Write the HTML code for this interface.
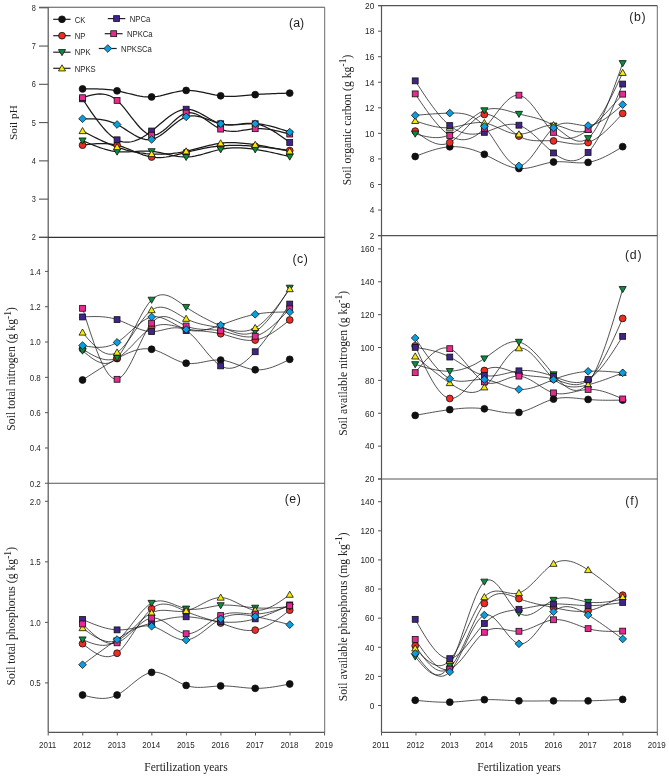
<!DOCTYPE html>
<html><head><meta charset="utf-8"><title>Figure</title>
<style>html,body{margin:0;padding:0;background:#fff;width:669px;height:776px;overflow:hidden;}svg{display:block;filter:blur(0.3px);font-family:"Liberation Sans",sans-serif;}</style></head>
<body>
<svg width="669" height="776" viewBox="0 0 669 776"><rect width="669" height="776" fill="#ffffff"/>
<line x1="48.2" y1="7.3" x2="48.2" y2="732.3" stroke="#555555" stroke-width="1.2"/>
<line x1="324.7" y1="7.3" x2="324.7" y2="732.3" stroke="#5a5a5a" stroke-width="0.9"/>
<line x1="39" y1="7.3" x2="324.7" y2="7.3" stroke="#555555" stroke-width="1.1"/>
<line x1="39" y1="237.4" x2="324.7" y2="237.4" stroke="#333" stroke-width="1.2"/>
<line x1="45" y1="483.3" x2="324.7" y2="483.3" stroke="#555555" stroke-width="1.1"/>
<line x1="48.2" y1="732.3" x2="324.7" y2="732.3" stroke="#555555" stroke-width="1.2"/>
<line x1="39" y1="237.40" x2="48.2" y2="237.40" stroke="#555555" stroke-width="1.1"/>
<text transform="translate(35.80 240.40) scale(1 1.15)" font-family="Liberation Sans, sans-serif" font-size="7.4" text-anchor="end" fill="#262626" >2</text>
<line x1="39" y1="199.13" x2="48.2" y2="199.13" stroke="#555555" stroke-width="1.1"/>
<text transform="translate(35.80 202.13) scale(1 1.15)" font-family="Liberation Sans, sans-serif" font-size="7.4" text-anchor="end" fill="#262626" >3</text>
<line x1="39" y1="160.86" x2="48.2" y2="160.86" stroke="#555555" stroke-width="1.1"/>
<text transform="translate(35.80 163.86) scale(1 1.15)" font-family="Liberation Sans, sans-serif" font-size="7.4" text-anchor="end" fill="#262626" >4</text>
<line x1="39" y1="122.59" x2="48.2" y2="122.59" stroke="#555555" stroke-width="1.1"/>
<text transform="translate(35.80 125.59) scale(1 1.15)" font-family="Liberation Sans, sans-serif" font-size="7.4" text-anchor="end" fill="#262626" >5</text>
<line x1="39" y1="84.32" x2="48.2" y2="84.32" stroke="#555555" stroke-width="1.1"/>
<text transform="translate(35.80 87.32) scale(1 1.15)" font-family="Liberation Sans, sans-serif" font-size="7.4" text-anchor="end" fill="#262626" >6</text>
<line x1="39" y1="46.05" x2="48.2" y2="46.05" stroke="#555555" stroke-width="1.1"/>
<text transform="translate(35.80 49.05) scale(1 1.15)" font-family="Liberation Sans, sans-serif" font-size="7.4" text-anchor="end" fill="#262626" >7</text>
<line x1="39" y1="7.78" x2="48.2" y2="7.78" stroke="#555555" stroke-width="1.1"/>
<text transform="translate(35.80 10.78) scale(1 1.15)" font-family="Liberation Sans, sans-serif" font-size="7.4" text-anchor="end" fill="#262626" >8</text>
<text transform="translate(40.80 486.50) scale(1 1.15)" font-family="Liberation Sans, sans-serif" font-size="8" text-anchor="end" fill="#262626" >0.2</text>
<line x1="45" y1="447.98" x2="48.2" y2="447.98" stroke="#555555" stroke-width="1"/>
<text transform="translate(40.80 451.18) scale(1 1.15)" font-family="Liberation Sans, sans-serif" font-size="8" text-anchor="end" fill="#262626" >0.4</text>
<line x1="45" y1="412.67" x2="48.2" y2="412.67" stroke="#555555" stroke-width="1"/>
<text transform="translate(40.80 415.87) scale(1 1.15)" font-family="Liberation Sans, sans-serif" font-size="8" text-anchor="end" fill="#262626" >0.6</text>
<line x1="45" y1="377.35" x2="48.2" y2="377.35" stroke="#555555" stroke-width="1"/>
<text transform="translate(40.80 380.55) scale(1 1.15)" font-family="Liberation Sans, sans-serif" font-size="8" text-anchor="end" fill="#262626" >0.8</text>
<line x1="45" y1="342.03" x2="48.2" y2="342.03" stroke="#555555" stroke-width="1"/>
<text transform="translate(40.80 345.23) scale(1 1.15)" font-family="Liberation Sans, sans-serif" font-size="8" text-anchor="end" fill="#262626" >1.0</text>
<line x1="45" y1="306.72" x2="48.2" y2="306.72" stroke="#555555" stroke-width="1"/>
<text transform="translate(40.80 309.92) scale(1 1.15)" font-family="Liberation Sans, sans-serif" font-size="8" text-anchor="end" fill="#262626" >1.2</text>
<line x1="45" y1="271.40" x2="48.2" y2="271.40" stroke="#555555" stroke-width="1"/>
<text transform="translate(40.80 274.60) scale(1 1.15)" font-family="Liberation Sans, sans-serif" font-size="8" text-anchor="end" fill="#262626" >1.4</text>
<line x1="45" y1="682.90" x2="48.2" y2="682.90" stroke="#555555" stroke-width="1"/>
<text transform="translate(40.80 686.10) scale(1 1.15)" font-family="Liberation Sans, sans-serif" font-size="8" text-anchor="end" fill="#262626" >0.5</text>
<line x1="45" y1="622.37" x2="48.2" y2="622.37" stroke="#555555" stroke-width="1"/>
<text transform="translate(40.80 625.57) scale(1 1.15)" font-family="Liberation Sans, sans-serif" font-size="8" text-anchor="end" fill="#262626" >1.0</text>
<line x1="45" y1="561.83" x2="48.2" y2="561.83" stroke="#555555" stroke-width="1"/>
<text transform="translate(40.80 565.03) scale(1 1.15)" font-family="Liberation Sans, sans-serif" font-size="8" text-anchor="end" fill="#262626" >1.5</text>
<line x1="45" y1="501.30" x2="48.2" y2="501.30" stroke="#555555" stroke-width="1"/>
<text transform="translate(40.80 504.50) scale(1 1.15)" font-family="Liberation Sans, sans-serif" font-size="8" text-anchor="end" fill="#262626" >2.0</text>
<line x1="48.20" y1="732.3" x2="48.20" y2="735.5" stroke="#555555" stroke-width="1"/>
<text transform="translate(47.60 747.60) scale(1 1.18)" font-family="Liberation Sans, sans-serif" font-size="8" text-anchor="middle" fill="#262626" >2011</text>
<line x1="82.75" y1="732.3" x2="82.75" y2="735.5" stroke="#555555" stroke-width="1"/>
<text transform="translate(82.15 747.60) scale(1 1.18)" font-family="Liberation Sans, sans-serif" font-size="8" text-anchor="middle" fill="#262626" >2012</text>
<line x1="117.30" y1="732.3" x2="117.30" y2="735.5" stroke="#555555" stroke-width="1"/>
<text transform="translate(116.70 747.60) scale(1 1.18)" font-family="Liberation Sans, sans-serif" font-size="8" text-anchor="middle" fill="#262626" >2013</text>
<line x1="151.85" y1="732.3" x2="151.85" y2="735.5" stroke="#555555" stroke-width="1"/>
<text transform="translate(151.25 747.60) scale(1 1.18)" font-family="Liberation Sans, sans-serif" font-size="8" text-anchor="middle" fill="#262626" >2014</text>
<line x1="186.40" y1="732.3" x2="186.40" y2="735.5" stroke="#555555" stroke-width="1"/>
<text transform="translate(185.80 747.60) scale(1 1.18)" font-family="Liberation Sans, sans-serif" font-size="8" text-anchor="middle" fill="#262626" >2015</text>
<line x1="220.95" y1="732.3" x2="220.95" y2="735.5" stroke="#555555" stroke-width="1"/>
<text transform="translate(220.35 747.60) scale(1 1.18)" font-family="Liberation Sans, sans-serif" font-size="8" text-anchor="middle" fill="#262626" >2016</text>
<line x1="255.50" y1="732.3" x2="255.50" y2="735.5" stroke="#555555" stroke-width="1"/>
<text transform="translate(254.90 747.60) scale(1 1.18)" font-family="Liberation Sans, sans-serif" font-size="8" text-anchor="middle" fill="#262626" >2017</text>
<line x1="290.05" y1="732.3" x2="290.05" y2="735.5" stroke="#555555" stroke-width="1"/>
<text transform="translate(289.45 747.60) scale(1 1.18)" font-family="Liberation Sans, sans-serif" font-size="8" text-anchor="middle" fill="#262626" >2018</text>
<line x1="324.60" y1="732.3" x2="324.60" y2="735.5" stroke="#555555" stroke-width="1"/>
<text transform="translate(324.00 747.60) scale(1 1.18)" font-family="Liberation Sans, sans-serif" font-size="8" text-anchor="middle" fill="#262626" >2019</text>
<line x1="381.5" y1="5.6" x2="381.5" y2="732.3" stroke="#555555" stroke-width="1.2"/>
<line x1="657.3" y1="5.6" x2="657.3" y2="732.3" stroke="#5a5a5a" stroke-width="0.9"/>
<line x1="378" y1="5.6" x2="657.3" y2="5.6" stroke="#555555" stroke-width="1.1"/>
<line x1="378" y1="235.6" x2="657.3" y2="235.6" stroke="#555555" stroke-width="1.1"/>
<line x1="378" y1="479.0" x2="657.3" y2="479.0" stroke="#555555" stroke-width="1.1"/>
<line x1="381.5" y1="732.3" x2="657.3" y2="732.3" stroke="#555555" stroke-width="1.2"/>
<line x1="378" y1="235.60" x2="381.5" y2="235.60" stroke="#555555" stroke-width="1"/>
<text transform="translate(374.30 238.90) scale(1 1.15)" font-family="Liberation Sans, sans-serif" font-size="8.3" text-anchor="end" fill="#262626" >2</text>
<line x1="378" y1="210.04" x2="381.5" y2="210.04" stroke="#555555" stroke-width="1"/>
<text transform="translate(374.30 213.34) scale(1 1.15)" font-family="Liberation Sans, sans-serif" font-size="8.3" text-anchor="end" fill="#262626" >4</text>
<line x1="378" y1="184.49" x2="381.5" y2="184.49" stroke="#555555" stroke-width="1"/>
<text transform="translate(374.30 187.79) scale(1 1.15)" font-family="Liberation Sans, sans-serif" font-size="8.3" text-anchor="end" fill="#262626" >6</text>
<line x1="378" y1="158.93" x2="381.5" y2="158.93" stroke="#555555" stroke-width="1"/>
<text transform="translate(374.30 162.23) scale(1 1.15)" font-family="Liberation Sans, sans-serif" font-size="8.3" text-anchor="end" fill="#262626" >8</text>
<line x1="378" y1="133.38" x2="381.5" y2="133.38" stroke="#555555" stroke-width="1"/>
<text transform="translate(374.30 136.68) scale(1 1.15)" font-family="Liberation Sans, sans-serif" font-size="8.3" text-anchor="end" fill="#262626" >10</text>
<line x1="378" y1="107.82" x2="381.5" y2="107.82" stroke="#555555" stroke-width="1"/>
<text transform="translate(374.30 111.12) scale(1 1.15)" font-family="Liberation Sans, sans-serif" font-size="8.3" text-anchor="end" fill="#262626" >12</text>
<line x1="378" y1="82.27" x2="381.5" y2="82.27" stroke="#555555" stroke-width="1"/>
<text transform="translate(374.30 85.57) scale(1 1.15)" font-family="Liberation Sans, sans-serif" font-size="8.3" text-anchor="end" fill="#262626" >14</text>
<line x1="378" y1="56.71" x2="381.5" y2="56.71" stroke="#555555" stroke-width="1"/>
<text transform="translate(374.30 60.01) scale(1 1.15)" font-family="Liberation Sans, sans-serif" font-size="8.3" text-anchor="end" fill="#262626" >16</text>
<line x1="378" y1="31.16" x2="381.5" y2="31.16" stroke="#555555" stroke-width="1"/>
<text transform="translate(374.30 34.46) scale(1 1.15)" font-family="Liberation Sans, sans-serif" font-size="8.3" text-anchor="end" fill="#262626" >18</text>
<line x1="378" y1="5.60" x2="381.5" y2="5.60" stroke="#555555" stroke-width="1"/>
<text transform="translate(374.30 8.90) scale(1 1.15)" font-family="Liberation Sans, sans-serif" font-size="8.3" text-anchor="end" fill="#262626" >20</text>
<line x1="378" y1="479.00" x2="381.5" y2="479.00" stroke="#555555" stroke-width="1"/>
<text transform="translate(374.30 482.30) scale(1 1.15)" font-family="Liberation Sans, sans-serif" font-size="8.3" text-anchor="end" fill="#262626" >20</text>
<line x1="378" y1="446.13" x2="381.5" y2="446.13" stroke="#555555" stroke-width="1"/>
<text transform="translate(374.30 449.43) scale(1 1.15)" font-family="Liberation Sans, sans-serif" font-size="8.3" text-anchor="end" fill="#262626" >40</text>
<line x1="378" y1="413.26" x2="381.5" y2="413.26" stroke="#555555" stroke-width="1"/>
<text transform="translate(374.30 416.56) scale(1 1.15)" font-family="Liberation Sans, sans-serif" font-size="8.3" text-anchor="end" fill="#262626" >60</text>
<line x1="378" y1="380.39" x2="381.5" y2="380.39" stroke="#555555" stroke-width="1"/>
<text transform="translate(374.30 383.69) scale(1 1.15)" font-family="Liberation Sans, sans-serif" font-size="8.3" text-anchor="end" fill="#262626" >80</text>
<line x1="378" y1="347.51" x2="381.5" y2="347.51" stroke="#555555" stroke-width="1"/>
<text transform="translate(374.30 350.81) scale(1 1.15)" font-family="Liberation Sans, sans-serif" font-size="8.3" text-anchor="end" fill="#262626" >100</text>
<line x1="378" y1="314.64" x2="381.5" y2="314.64" stroke="#555555" stroke-width="1"/>
<text transform="translate(374.30 317.94) scale(1 1.15)" font-family="Liberation Sans, sans-serif" font-size="8.3" text-anchor="end" fill="#262626" >120</text>
<line x1="378" y1="281.77" x2="381.5" y2="281.77" stroke="#555555" stroke-width="1"/>
<text transform="translate(374.30 285.07) scale(1 1.15)" font-family="Liberation Sans, sans-serif" font-size="8.3" text-anchor="end" fill="#262626" >140</text>
<line x1="378" y1="248.90" x2="381.5" y2="248.90" stroke="#555555" stroke-width="1"/>
<text transform="translate(374.30 252.20) scale(1 1.15)" font-family="Liberation Sans, sans-serif" font-size="8.3" text-anchor="end" fill="#262626" >160</text>
<line x1="378" y1="705.50" x2="381.5" y2="705.50" stroke="#555555" stroke-width="1"/>
<text transform="translate(374.30 708.80) scale(1 1.15)" font-family="Liberation Sans, sans-serif" font-size="8.3" text-anchor="end" fill="#262626" >0</text>
<line x1="378" y1="676.39" x2="381.5" y2="676.39" stroke="#555555" stroke-width="1"/>
<text transform="translate(374.30 679.69) scale(1 1.15)" font-family="Liberation Sans, sans-serif" font-size="8.3" text-anchor="end" fill="#262626" >20</text>
<line x1="378" y1="647.27" x2="381.5" y2="647.27" stroke="#555555" stroke-width="1"/>
<text transform="translate(374.30 650.57) scale(1 1.15)" font-family="Liberation Sans, sans-serif" font-size="8.3" text-anchor="end" fill="#262626" >40</text>
<line x1="378" y1="618.16" x2="381.5" y2="618.16" stroke="#555555" stroke-width="1"/>
<text transform="translate(374.30 621.46) scale(1 1.15)" font-family="Liberation Sans, sans-serif" font-size="8.3" text-anchor="end" fill="#262626" >60</text>
<line x1="378" y1="589.04" x2="381.5" y2="589.04" stroke="#555555" stroke-width="1"/>
<text transform="translate(374.30 592.34) scale(1 1.15)" font-family="Liberation Sans, sans-serif" font-size="8.3" text-anchor="end" fill="#262626" >80</text>
<line x1="378" y1="559.93" x2="381.5" y2="559.93" stroke="#555555" stroke-width="1"/>
<text transform="translate(374.30 563.23) scale(1 1.15)" font-family="Liberation Sans, sans-serif" font-size="8.3" text-anchor="end" fill="#262626" >100</text>
<line x1="378" y1="530.81" x2="381.5" y2="530.81" stroke="#555555" stroke-width="1"/>
<text transform="translate(374.30 534.11) scale(1 1.15)" font-family="Liberation Sans, sans-serif" font-size="8.3" text-anchor="end" fill="#262626" >120</text>
<line x1="378" y1="501.70" x2="381.5" y2="501.70" stroke="#555555" stroke-width="1"/>
<text transform="translate(374.30 505.00) scale(1 1.15)" font-family="Liberation Sans, sans-serif" font-size="8.3" text-anchor="end" fill="#262626" >140</text>
<line x1="381.50" y1="732.3" x2="381.50" y2="735.5" stroke="#555555" stroke-width="1"/>
<text transform="translate(380.90 747.60) scale(1 1.18)" font-family="Liberation Sans, sans-serif" font-size="8" text-anchor="middle" fill="#262626" >2011</text>
<line x1="415.98" y1="732.3" x2="415.98" y2="735.5" stroke="#555555" stroke-width="1"/>
<text transform="translate(415.38 747.60) scale(1 1.18)" font-family="Liberation Sans, sans-serif" font-size="8" text-anchor="middle" fill="#262626" >2012</text>
<line x1="450.46" y1="732.3" x2="450.46" y2="735.5" stroke="#555555" stroke-width="1"/>
<text transform="translate(449.86 747.60) scale(1 1.18)" font-family="Liberation Sans, sans-serif" font-size="8" text-anchor="middle" fill="#262626" >2013</text>
<line x1="484.94" y1="732.3" x2="484.94" y2="735.5" stroke="#555555" stroke-width="1"/>
<text transform="translate(484.34 747.60) scale(1 1.18)" font-family="Liberation Sans, sans-serif" font-size="8" text-anchor="middle" fill="#262626" >2014</text>
<line x1="519.42" y1="732.3" x2="519.42" y2="735.5" stroke="#555555" stroke-width="1"/>
<text transform="translate(518.82 747.60) scale(1 1.18)" font-family="Liberation Sans, sans-serif" font-size="8" text-anchor="middle" fill="#262626" >2015</text>
<line x1="553.90" y1="732.3" x2="553.90" y2="735.5" stroke="#555555" stroke-width="1"/>
<text transform="translate(553.30 747.60) scale(1 1.18)" font-family="Liberation Sans, sans-serif" font-size="8" text-anchor="middle" fill="#262626" >2016</text>
<line x1="588.38" y1="732.3" x2="588.38" y2="735.5" stroke="#555555" stroke-width="1"/>
<text transform="translate(587.78 747.60) scale(1 1.18)" font-family="Liberation Sans, sans-serif" font-size="8" text-anchor="middle" fill="#262626" >2017</text>
<line x1="622.86" y1="732.3" x2="622.86" y2="735.5" stroke="#555555" stroke-width="1"/>
<text transform="translate(622.26 747.60) scale(1 1.18)" font-family="Liberation Sans, sans-serif" font-size="8" text-anchor="middle" fill="#262626" >2018</text>
<line x1="657.34" y1="732.3" x2="657.34" y2="735.5" stroke="#555555" stroke-width="1"/>
<text transform="translate(656.74 747.60) scale(1 1.18)" font-family="Liberation Sans, sans-serif" font-size="8" text-anchor="middle" fill="#262626" >2019</text>
<g id="pa"><path d="M82.55 88.91 L85.43 88.88 L88.30 88.86 L91.18 88.85 L94.06 88.87 L96.94 88.92 L99.81 89.01 L102.69 89.15 L105.57 89.34 L108.45 89.59 L111.33 89.92 L114.20 90.33 L117.08 90.83 L119.96 91.41 L122.84 92.07 L125.71 92.77 L128.59 93.49 L131.47 94.21 L134.34 94.89 L137.22 95.52 L140.10 96.07 L142.98 96.51 L145.86 96.82 L148.73 96.98 L151.61 96.95 L154.49 96.72 L157.37 96.33 L160.24 95.79 L163.12 95.15 L166.00 94.44 L168.88 93.70 L171.75 92.95 L174.63 92.25 L177.51 91.61 L180.38 91.07 L183.26 90.67 L186.14 90.44 L189.02 90.41 L191.89 90.56 L194.77 90.86 L197.65 91.29 L200.53 91.81 L203.41 92.40 L206.28 93.03 L209.16 93.67 L212.04 94.29 L214.92 94.88 L217.79 95.39 L220.67 95.80 L223.55 96.09 L226.43 96.27 L229.30 96.35 L232.18 96.35 L235.06 96.26 L237.94 96.12 L240.81 95.92 L243.69 95.69 L246.57 95.43 L249.44 95.17 L252.32 94.90 L255.20 94.65 L258.08 94.43 L260.95 94.23 L263.83 94.05 L266.71 93.90 L269.59 93.76 L272.47 93.64 L275.34 93.53 L278.22 93.44 L281.10 93.35 L283.98 93.27 L286.85 93.19 L289.73 93.12" fill="none" stroke="#1a1a1a" stroke-width="1.25"/>
<path d="M82.55 145.17 L85.43 144.81 L88.30 144.47 L91.18 144.16 L94.06 143.90 L96.94 143.69 L99.81 143.56 L102.69 143.52 L105.57 143.58 L108.45 143.76 L111.33 144.08 L114.20 144.54 L117.08 145.17 L119.96 145.97 L122.84 146.91 L125.71 147.97 L128.59 149.11 L131.47 150.29 L134.34 151.48 L137.22 152.65 L140.10 153.77 L142.98 154.80 L145.86 155.71 L148.73 156.47 L151.61 157.03 L154.49 157.39 L157.37 157.54 L160.24 157.51 L163.12 157.32 L166.00 157.00 L168.88 156.55 L171.75 156.00 L174.63 155.36 L177.51 154.67 L180.38 153.94 L183.26 153.19 L186.14 152.44 L189.02 151.71 L191.89 151.00 L194.77 150.31 L197.65 149.66 L200.53 149.04 L203.41 148.46 L206.28 147.92 L209.16 147.42 L212.04 146.97 L214.92 146.57 L217.79 146.22 L220.67 145.93 L223.55 145.70 L226.43 145.53 L229.30 145.41 L232.18 145.35 L235.06 145.33 L237.94 145.36 L240.81 145.43 L243.69 145.54 L246.57 145.69 L249.44 145.87 L252.32 146.08 L255.20 146.32 L258.08 146.58 L260.95 146.87 L263.83 147.18 L266.71 147.50 L269.59 147.84 L272.47 148.20 L275.34 148.57 L278.22 148.95 L281.10 149.34 L283.98 149.73 L286.85 150.13 L289.73 150.53" fill="none" stroke="#1a1a1a" stroke-width="1.25"/>
<path d="M82.55 140.58 L85.43 141.82 L88.30 143.04 L91.18 144.24 L94.06 145.40 L96.94 146.51 L99.81 147.55 L102.69 148.51 L105.57 149.38 L108.45 150.15 L111.33 150.79 L114.20 151.31 L117.08 151.68 L119.96 151.89 L122.84 151.98 L125.71 151.95 L128.59 151.85 L131.47 151.69 L134.34 151.51 L137.22 151.33 L140.10 151.16 L142.98 151.05 L145.86 151.02 L148.73 151.09 L151.61 151.29 L154.49 151.64 L157.37 152.11 L160.24 152.68 L163.12 153.31 L166.00 153.97 L168.88 154.64 L171.75 155.28 L174.63 155.87 L177.51 156.37 L180.38 156.75 L183.26 156.98 L186.14 157.03 L189.02 156.89 L191.89 156.56 L194.77 156.08 L197.65 155.48 L200.53 154.77 L203.41 154.00 L206.28 153.18 L209.16 152.34 L212.04 151.52 L214.92 150.73 L217.79 150.01 L220.67 149.38 L223.55 148.87 L226.43 148.47 L229.30 148.17 L232.18 147.98 L235.06 147.89 L237.94 147.88 L240.81 147.96 L243.69 148.12 L246.57 148.34 L249.44 148.63 L252.32 148.98 L255.20 149.38 L258.08 149.82 L260.95 150.31 L263.83 150.84 L266.71 151.40 L269.59 151.99 L272.47 152.60 L275.34 153.24 L278.22 153.90 L281.10 154.58 L283.98 155.26 L286.85 155.95 L289.73 156.65" fill="none" stroke="#1a1a1a" stroke-width="1.25"/>
<path d="M82.55 131.01 L85.43 132.51 L88.30 134.00 L91.18 135.48 L94.06 136.94 L96.94 138.37 L99.81 139.77 L102.69 141.12 L105.57 142.44 L108.45 143.69 L111.33 144.89 L114.20 146.02 L117.08 147.08 L119.96 148.06 L122.84 148.96 L125.71 149.79 L128.59 150.54 L131.47 151.21 L134.34 151.81 L137.22 152.34 L140.10 152.80 L142.98 153.19 L145.86 153.52 L148.73 153.78 L151.61 153.97 L154.49 154.10 L157.37 154.17 L160.24 154.18 L163.12 154.12 L166.00 153.99 L168.88 153.81 L171.75 153.55 L174.63 153.23 L177.51 152.85 L180.38 152.40 L183.26 151.88 L186.14 151.29 L189.02 150.64 L191.89 149.94 L194.77 149.20 L197.65 148.43 L200.53 147.66 L203.41 146.89 L206.28 146.14 L209.16 145.43 L212.04 144.78 L214.92 144.18 L217.79 143.67 L220.67 143.26 L223.55 142.95 L226.43 142.74 L229.30 142.63 L232.18 142.61 L235.06 142.67 L237.94 142.81 L240.81 143.01 L243.69 143.28 L246.57 143.59 L249.44 143.95 L252.32 144.35 L255.20 144.79 L258.08 145.24 L260.95 145.72 L263.83 146.22 L266.71 146.74 L269.59 147.27 L272.47 147.82 L275.34 148.38 L278.22 148.95 L281.10 149.53 L283.98 150.11 L286.85 150.70 L289.73 151.29" fill="none" stroke="#1a1a1a" stroke-width="1.25"/>
<path d="M82.55 98.86 L85.43 103.23 L88.30 107.57 L91.18 111.82 L94.06 115.95 L96.94 119.92 L99.81 123.69 L102.69 127.21 L105.57 130.46 L108.45 133.38 L111.33 135.94 L114.20 138.10 L117.08 139.81 L119.96 141.05 L122.84 141.84 L125.71 142.20 L128.59 142.17 L131.47 141.76 L134.34 141.02 L137.22 139.96 L140.10 138.62 L142.98 137.03 L145.86 135.21 L148.73 133.19 L151.61 131.01 L154.49 128.69 L157.37 126.28 L160.24 123.84 L163.12 121.42 L166.00 119.08 L168.88 116.86 L171.75 114.82 L174.63 113.01 L177.51 111.49 L180.38 110.32 L183.26 109.53 L186.14 109.20 L189.02 109.34 L191.89 109.91 L194.77 110.84 L197.65 112.06 L200.53 113.50 L203.41 115.09 L206.28 116.75 L209.16 118.42 L212.04 120.02 L214.92 121.49 L217.79 122.75 L220.67 123.74 L223.55 124.40 L226.43 124.76 L229.30 124.88 L232.18 124.82 L235.06 124.61 L237.94 124.32 L240.81 124.00 L243.69 123.70 L246.57 123.47 L249.44 123.36 L252.32 123.44 L255.20 123.74 L258.08 124.31 L260.95 125.14 L263.83 126.20 L266.71 127.48 L269.59 128.95 L272.47 130.58 L275.34 132.35 L278.22 134.23 L281.10 136.22 L283.98 138.27 L286.85 140.37 L289.73 142.49" fill="none" stroke="#1a1a1a" stroke-width="1.25"/>
<path d="M82.55 97.71 L85.43 96.82 L88.30 95.97 L91.18 95.21 L94.06 94.60 L96.94 94.17 L99.81 93.98 L102.69 94.07 L105.57 94.49 L108.45 95.28 L111.33 96.50 L114.20 98.19 L117.08 100.39 L119.96 103.13 L122.84 106.32 L125.71 109.81 L128.59 113.51 L131.47 117.27 L134.34 120.98 L137.22 124.51 L140.10 127.75 L142.98 130.56 L145.86 132.82 L148.73 134.42 L151.61 135.22 L154.49 135.15 L157.37 134.30 L160.24 132.80 L163.12 130.80 L166.00 128.44 L168.88 125.84 L171.75 123.14 L174.63 120.49 L177.51 118.01 L180.38 115.85 L183.26 114.14 L186.14 113.02 L189.02 112.59 L191.89 112.79 L194.77 113.53 L197.65 114.72 L200.53 116.26 L203.41 118.06 L206.28 120.02 L209.16 122.06 L212.04 124.08 L214.92 125.99 L217.79 127.69 L220.67 129.10 L223.55 130.13 L226.43 130.82 L229.30 131.20 L232.18 131.33 L235.06 131.26 L237.94 131.01 L240.81 130.66 L243.69 130.23 L246.57 129.77 L249.44 129.34 L252.32 128.97 L255.20 128.71 L258.08 128.60 L260.95 128.64 L263.83 128.81 L266.71 129.10 L269.59 129.49 L272.47 129.97 L275.34 130.53 L278.22 131.16 L281.10 131.84 L283.98 132.56 L286.85 133.31 L289.73 134.07" fill="none" stroke="#1a1a1a" stroke-width="1.25"/>
<path d="M82.55 118.76 L85.43 118.76 L88.30 118.79 L91.18 118.85 L94.06 118.97 L96.94 119.17 L99.81 119.47 L102.69 119.89 L105.57 120.45 L108.45 121.18 L111.33 122.08 L114.20 123.18 L117.08 124.50 L119.96 126.05 L122.84 127.77 L125.71 129.60 L128.59 131.46 L131.47 133.28 L134.34 135.01 L137.22 136.57 L140.10 137.89 L142.98 138.90 L145.86 139.54 L148.73 139.74 L151.61 139.43 L154.49 138.57 L157.37 137.21 L160.24 135.47 L163.12 133.41 L166.00 131.14 L168.88 128.75 L171.75 126.32 L174.63 123.95 L177.51 121.73 L180.38 119.74 L183.26 118.09 L186.14 116.85 L189.02 116.10 L191.89 115.80 L194.77 115.88 L197.65 116.29 L200.53 116.95 L203.41 117.82 L206.28 118.83 L209.16 119.91 L212.04 121.00 L214.92 122.05 L217.79 122.98 L220.67 123.74 L223.55 124.28 L226.43 124.61 L229.30 124.77 L232.18 124.79 L235.06 124.71 L237.94 124.54 L240.81 124.33 L243.69 124.11 L246.57 123.91 L249.44 123.76 L252.32 123.69 L255.20 123.74 L258.08 123.92 L260.95 124.24 L263.83 124.69 L266.71 125.24 L269.59 125.89 L272.47 126.63 L275.34 127.44 L278.22 128.31 L281.10 129.23 L283.98 130.18 L286.85 131.16 L289.73 132.16" fill="none" stroke="#1a1a1a" stroke-width="1.25"/>
<circle cx="82.55" cy="88.91" r="3.40" fill="#101010" stroke="#111" stroke-width="0.8"/>
<circle cx="117.08" cy="90.83" r="3.40" fill="#101010" stroke="#111" stroke-width="0.8"/>
<circle cx="151.61" cy="96.95" r="3.40" fill="#101010" stroke="#111" stroke-width="0.8"/>
<circle cx="186.14" cy="90.44" r="3.40" fill="#101010" stroke="#111" stroke-width="0.8"/>
<circle cx="220.67" cy="95.80" r="3.40" fill="#101010" stroke="#111" stroke-width="0.8"/>
<circle cx="255.20" cy="94.65" r="3.40" fill="#101010" stroke="#111" stroke-width="0.8"/>
<circle cx="289.73" cy="93.12" r="3.40" fill="#101010" stroke="#111" stroke-width="0.8"/>
<circle cx="82.55" cy="145.17" r="3.40" fill="#ee2c24" stroke="#111" stroke-width="0.8"/>
<circle cx="117.08" cy="145.17" r="3.40" fill="#ee2c24" stroke="#111" stroke-width="0.8"/>
<circle cx="151.61" cy="157.03" r="3.40" fill="#ee2c24" stroke="#111" stroke-width="0.8"/>
<circle cx="186.14" cy="152.44" r="3.40" fill="#ee2c24" stroke="#111" stroke-width="0.8"/>
<circle cx="220.67" cy="145.93" r="3.40" fill="#ee2c24" stroke="#111" stroke-width="0.8"/>
<circle cx="255.20" cy="146.32" r="3.40" fill="#ee2c24" stroke="#111" stroke-width="0.8"/>
<circle cx="289.73" cy="150.53" r="3.40" fill="#ee2c24" stroke="#111" stroke-width="0.8"/>
<path d="M82.55 144.08L86.10 137.95L79.00 137.95Z" fill="#03923c" stroke="#111" stroke-width="0.8" stroke-linejoin="miter"/>
<path d="M117.08 155.18L120.63 149.05L113.53 149.05Z" fill="#03923c" stroke="#111" stroke-width="0.8" stroke-linejoin="miter"/>
<path d="M151.61 154.79L155.16 148.67L148.06 148.67Z" fill="#03923c" stroke="#111" stroke-width="0.8" stroke-linejoin="miter"/>
<path d="M186.14 160.53L189.69 154.41L182.59 154.41Z" fill="#03923c" stroke="#111" stroke-width="0.8" stroke-linejoin="miter"/>
<path d="M220.67 152.88L224.22 146.75L217.12 146.75Z" fill="#03923c" stroke="#111" stroke-width="0.8" stroke-linejoin="miter"/>
<path d="M255.20 152.88L258.75 146.75L251.65 146.75Z" fill="#03923c" stroke="#111" stroke-width="0.8" stroke-linejoin="miter"/>
<path d="M289.73 160.15L293.28 154.03L286.18 154.03Z" fill="#03923c" stroke="#111" stroke-width="0.8" stroke-linejoin="miter"/>
<path d="M82.55 127.51L86.10 133.63L79.00 133.63Z" fill="#f6ec00" stroke="#111" stroke-width="0.8" stroke-linejoin="miter"/>
<path d="M117.08 143.58L120.63 149.71L113.53 149.71Z" fill="#f6ec00" stroke="#111" stroke-width="0.8" stroke-linejoin="miter"/>
<path d="M151.61 150.47L155.16 156.60L148.06 156.60Z" fill="#f6ec00" stroke="#111" stroke-width="0.8" stroke-linejoin="miter"/>
<path d="M186.14 147.79L189.69 153.92L182.59 153.92Z" fill="#f6ec00" stroke="#111" stroke-width="0.8" stroke-linejoin="miter"/>
<path d="M220.67 139.76L224.22 145.88L217.12 145.88Z" fill="#f6ec00" stroke="#111" stroke-width="0.8" stroke-linejoin="miter"/>
<path d="M255.20 141.29L258.75 147.41L251.65 147.41Z" fill="#f6ec00" stroke="#111" stroke-width="0.8" stroke-linejoin="miter"/>
<path d="M289.73 147.79L293.28 153.92L286.18 153.92Z" fill="#f6ec00" stroke="#111" stroke-width="0.8" stroke-linejoin="miter"/>
<rect x="79.60" y="95.91" width="5.90" height="5.90" fill="#40248a" stroke="#111" stroke-width="0.8"/>
<rect x="114.13" y="136.86" width="5.90" height="5.90" fill="#40248a" stroke="#111" stroke-width="0.8"/>
<rect x="148.66" y="128.06" width="5.90" height="5.90" fill="#40248a" stroke="#111" stroke-width="0.8"/>
<rect x="183.19" y="106.25" width="5.90" height="5.90" fill="#40248a" stroke="#111" stroke-width="0.8"/>
<rect x="217.72" y="120.79" width="5.90" height="5.90" fill="#40248a" stroke="#111" stroke-width="0.8"/>
<rect x="252.25" y="120.79" width="5.90" height="5.90" fill="#40248a" stroke="#111" stroke-width="0.8"/>
<rect x="286.78" y="139.54" width="5.90" height="5.90" fill="#40248a" stroke="#111" stroke-width="0.8"/>
<rect x="79.60" y="94.76" width="5.90" height="5.90" fill="#ea2990" stroke="#111" stroke-width="0.8"/>
<rect x="114.13" y="97.44" width="5.90" height="5.90" fill="#ea2990" stroke="#111" stroke-width="0.8"/>
<rect x="148.66" y="132.27" width="5.90" height="5.90" fill="#ea2990" stroke="#111" stroke-width="0.8"/>
<rect x="183.19" y="110.07" width="5.90" height="5.90" fill="#ea2990" stroke="#111" stroke-width="0.8"/>
<rect x="217.72" y="126.15" width="5.90" height="5.90" fill="#ea2990" stroke="#111" stroke-width="0.8"/>
<rect x="252.25" y="125.76" width="5.90" height="5.90" fill="#ea2990" stroke="#111" stroke-width="0.8"/>
<rect x="286.78" y="131.12" width="5.90" height="5.90" fill="#ea2990" stroke="#111" stroke-width="0.8"/>
<path d="M82.55 114.91L86.40 118.76L82.55 122.61L78.70 118.76Z" fill="#089fe2" stroke="#111" stroke-width="0.8"/>
<path d="M117.08 120.65L120.93 124.50L117.08 128.35L113.23 124.50Z" fill="#089fe2" stroke="#111" stroke-width="0.8"/>
<path d="M151.61 135.58L155.46 139.43L151.61 143.28L147.76 139.43Z" fill="#089fe2" stroke="#111" stroke-width="0.8"/>
<path d="M186.14 113.00L189.99 116.85L186.14 120.70L182.29 116.85Z" fill="#089fe2" stroke="#111" stroke-width="0.8"/>
<path d="M220.67 119.89L224.52 123.74L220.67 127.59L216.82 123.74Z" fill="#089fe2" stroke="#111" stroke-width="0.8"/>
<path d="M255.20 119.89L259.05 123.74L255.20 127.59L251.35 123.74Z" fill="#089fe2" stroke="#111" stroke-width="0.8"/>
<path d="M289.73 128.31L293.58 132.16L289.73 136.01L285.88 132.16Z" fill="#089fe2" stroke="#111" stroke-width="0.8"/></g>
<g id="pb"><path d="M415.20 156.51 L418.08 155.39 L420.96 154.29 L423.84 153.21 L426.73 152.17 L429.61 151.19 L432.49 150.27 L435.37 149.42 L438.25 148.66 L441.13 148.01 L444.02 147.47 L446.90 147.06 L449.78 146.79 L452.66 146.68 L455.54 146.71 L458.42 146.89 L461.31 147.20 L464.19 147.66 L467.07 148.25 L469.95 148.96 L472.83 149.81 L475.72 150.77 L478.60 151.85 L481.48 153.04 L484.36 154.33 L487.24 155.73 L490.12 157.20 L493.00 158.70 L495.89 160.21 L498.77 161.69 L501.65 163.11 L504.53 164.44 L507.41 165.64 L510.29 166.68 L513.18 167.53 L516.06 168.15 L518.94 168.52 L521.82 168.60 L524.70 168.44 L527.58 168.06 L530.47 167.52 L533.35 166.85 L536.23 166.09 L539.11 165.28 L541.99 164.47 L544.88 163.70 L547.76 163.00 L550.64 162.42 L553.52 162.00 L556.40 161.76 L559.28 161.69 L562.16 161.75 L565.05 161.90 L567.93 162.12 L570.81 162.36 L573.69 162.59 L576.57 162.77 L579.45 162.88 L582.34 162.87 L585.22 162.72 L588.10 162.38 L590.98 161.84 L593.86 161.09 L596.74 160.17 L599.63 159.08 L602.51 157.84 L605.39 156.48 L608.27 155.01 L611.15 153.45 L614.03 151.82 L616.92 150.13 L619.80 148.41 L622.68 146.67" fill="none" stroke="#1a1a1a" stroke-width="0.75"/>
<path d="M415.20 131.08 L418.08 133.24 L420.96 135.35 L423.84 137.36 L426.73 139.22 L429.61 140.87 L432.49 142.28 L435.37 143.38 L438.25 144.12 L441.13 144.47 L444.02 144.36 L446.90 143.75 L449.78 142.58 L452.66 140.83 L455.54 138.59 L458.42 135.98 L461.31 133.11 L464.19 130.09 L467.07 127.03 L469.95 124.06 L472.83 121.29 L475.72 118.83 L478.60 116.80 L481.48 115.30 L484.36 114.47 L487.24 114.37 L490.12 114.94 L493.00 116.08 L495.89 117.71 L498.77 119.71 L501.65 121.99 L504.53 124.45 L507.41 127.00 L510.29 129.53 L513.18 131.95 L516.06 134.16 L518.94 136.06 L521.82 137.58 L524.70 138.74 L527.58 139.59 L530.47 140.17 L533.35 140.53 L536.23 140.72 L539.11 140.79 L541.99 140.78 L544.88 140.74 L547.76 140.72 L550.64 140.76 L553.52 140.92 L556.40 141.21 L559.28 141.63 L562.16 142.11 L565.05 142.62 L567.93 143.12 L570.81 143.56 L573.69 143.90 L576.57 144.10 L579.45 144.11 L582.34 143.89 L585.22 143.39 L588.10 142.58 L590.98 141.42 L593.86 139.92 L596.74 138.13 L599.63 136.07 L602.51 133.77 L605.39 131.25 L608.27 128.56 L611.15 125.72 L614.03 122.76 L616.92 119.70 L619.80 116.59 L622.68 113.44" fill="none" stroke="#1a1a1a" stroke-width="0.75"/>
<path d="M415.20 133.76 L418.08 134.56 L420.96 135.32 L423.84 136.02 L426.73 136.64 L429.61 137.13 L432.49 137.47 L435.37 137.63 L438.25 137.58 L441.13 137.29 L444.02 136.72 L446.90 135.86 L449.78 134.66 L452.66 133.11 L455.54 131.26 L458.42 129.18 L461.31 126.93 L464.19 124.57 L467.07 122.16 L469.95 119.78 L472.83 117.48 L475.72 115.32 L478.60 113.38 L481.48 111.71 L484.36 110.38 L487.24 109.43 L490.12 108.84 L493.00 108.58 L495.89 108.59 L498.77 108.85 L501.65 109.30 L504.53 109.92 L507.41 110.65 L510.29 111.46 L513.18 112.31 L516.06 113.15 L518.94 113.96 L521.82 114.69 L524.70 115.36 L527.58 116.01 L530.47 116.67 L533.35 117.36 L536.23 118.12 L539.11 118.97 L541.99 119.95 L544.88 121.09 L547.76 122.40 L550.64 123.94 L553.52 125.71 L556.40 127.74 L559.28 129.94 L562.16 132.20 L565.05 134.42 L567.93 136.50 L570.81 138.33 L573.69 139.81 L576.57 140.82 L579.45 141.28 L582.34 141.07 L585.22 140.09 L588.10 138.23 L590.98 135.43 L593.86 131.72 L596.74 127.20 L599.63 121.94 L602.51 116.03 L605.39 109.55 L608.27 102.58 L611.15 95.20 L614.03 87.49 L616.92 79.54 L619.80 71.43 L622.68 63.23" fill="none" stroke="#1a1a1a" stroke-width="0.75"/>
<path d="M415.20 120.86 L418.08 121.82 L420.96 122.76 L423.84 123.67 L426.73 124.53 L429.61 125.32 L432.49 126.03 L435.37 126.65 L438.25 127.14 L441.13 127.50 L444.02 127.72 L446.90 127.76 L449.78 127.63 L452.66 127.30 L455.54 126.82 L458.42 126.23 L461.31 125.56 L464.19 124.87 L467.07 124.20 L469.95 123.58 L472.83 123.07 L475.72 122.70 L478.60 122.52 L481.48 122.57 L484.36 122.90 L487.24 123.53 L490.12 124.41 L493.00 125.50 L495.89 126.72 L498.77 128.02 L501.65 129.33 L504.53 130.61 L507.41 131.79 L510.29 132.80 L513.18 133.59 L516.06 134.10 L518.94 134.27 L521.82 134.06 L524.70 133.52 L527.58 132.72 L530.47 131.72 L533.35 130.60 L536.23 129.42 L539.11 128.26 L541.99 127.18 L544.88 126.25 L547.76 125.54 L550.64 125.13 L553.52 125.07 L556.40 125.42 L559.28 126.09 L562.16 127.00 L565.05 128.05 L567.93 129.13 L570.81 130.15 L573.69 131.02 L576.57 131.62 L579.45 131.88 L582.34 131.68 L585.22 130.94 L588.10 129.54 L590.98 127.43 L593.86 124.64 L596.74 121.23 L599.63 117.25 L602.51 112.78 L605.39 107.88 L608.27 102.60 L611.15 97.02 L614.03 91.18 L616.92 85.16 L619.80 79.02 L622.68 72.81" fill="none" stroke="#1a1a1a" stroke-width="0.75"/>
<path d="M415.20 80.86 L418.08 85.29 L420.96 89.68 L423.84 94.02 L426.73 98.27 L429.61 102.40 L432.49 106.39 L435.37 110.20 L438.25 113.80 L441.13 117.17 L444.02 120.28 L446.90 123.09 L449.78 125.58 L452.66 127.73 L455.54 129.54 L458.42 131.03 L461.31 132.21 L464.19 133.09 L467.07 133.70 L469.95 134.05 L472.83 134.15 L475.72 134.01 L478.60 133.66 L481.48 133.10 L484.36 132.36 L487.24 131.44 L490.12 130.40 L493.00 129.30 L495.89 128.19 L498.77 127.11 L501.65 126.13 L504.53 125.29 L507.41 124.66 L510.29 124.28 L513.18 124.20 L516.06 124.49 L518.94 125.20 L521.82 126.36 L524.70 127.92 L527.58 129.83 L530.47 132.04 L533.35 134.47 L536.23 137.08 L539.11 139.79 L541.99 142.56 L544.88 145.31 L547.76 148.00 L550.64 150.56 L553.52 152.93 L556.40 155.05 L559.28 156.90 L562.16 158.43 L565.05 159.61 L567.93 160.41 L570.81 160.80 L573.69 160.73 L576.57 160.19 L579.45 159.13 L582.34 157.53 L585.22 155.34 L588.10 152.54 L590.98 149.11 L593.86 145.09 L596.74 140.52 L599.63 135.47 L602.51 129.99 L605.39 124.13 L608.27 117.94 L611.15 111.49 L614.03 104.82 L616.92 97.99 L619.80 91.05 L622.68 84.06" fill="none" stroke="#1a1a1a" stroke-width="0.75"/>
<path d="M415.20 93.89 L418.08 98.17 L420.96 102.42 L423.84 106.59 L426.73 110.67 L429.61 114.61 L432.49 118.38 L435.37 121.94 L438.25 125.27 L441.13 128.33 L444.02 131.09 L446.90 133.51 L449.78 135.55 L452.66 137.19 L455.54 138.43 L458.42 139.26 L461.31 139.68 L464.19 139.69 L467.07 139.30 L469.95 138.49 L472.83 137.27 L475.72 135.64 L478.60 133.59 L481.48 131.14 L484.36 128.27 L487.24 125.00 L490.12 121.44 L493.00 117.69 L495.89 113.88 L498.77 110.13 L501.65 106.55 L504.53 103.25 L507.41 100.36 L510.29 97.99 L513.18 96.25 L516.06 95.28 L518.94 95.17 L521.82 96.02 L524.70 97.72 L527.58 100.14 L530.47 103.15 L533.35 106.61 L536.23 110.40 L539.11 114.37 L541.99 118.40 L544.88 122.34 L547.76 126.07 L550.64 129.45 L553.52 132.36 L556.40 134.67 L559.28 136.40 L562.16 137.59 L565.05 138.27 L567.93 138.48 L570.81 138.25 L573.69 137.62 L576.57 136.62 L579.45 135.29 L582.34 133.66 L585.22 131.78 L588.10 129.67 L590.98 127.37 L593.86 124.90 L596.74 122.27 L599.63 119.50 L602.51 116.61 L605.39 113.60 L608.27 110.51 L611.15 107.33 L614.03 104.09 L616.92 100.80 L619.80 97.48 L622.68 94.15" fill="none" stroke="#1a1a1a" stroke-width="0.75"/>
<path d="M415.20 115.36 L418.08 115.12 L420.96 114.87 L423.84 114.64 L426.73 114.40 L429.61 114.18 L432.49 113.97 L435.37 113.77 L438.25 113.59 L441.13 113.43 L444.02 113.28 L446.90 113.16 L449.78 113.06 L452.66 113.00 L455.54 113.00 L458.42 113.12 L461.31 113.40 L464.19 113.88 L467.07 114.60 L469.95 115.60 L472.83 116.94 L475.72 118.66 L478.60 120.79 L481.48 123.38 L484.36 126.48 L487.24 130.09 L490.12 134.11 L493.00 138.40 L495.89 142.82 L498.77 147.23 L501.65 151.48 L504.53 155.44 L507.41 158.97 L510.29 161.93 L513.18 164.17 L516.06 165.56 L518.94 165.96 L521.82 165.28 L524.70 163.62 L527.58 161.14 L530.47 157.99 L533.35 154.35 L536.23 150.35 L539.11 146.17 L541.99 141.95 L544.88 137.86 L547.76 134.04 L550.64 130.67 L553.52 127.88 L556.40 125.81 L559.28 124.39 L562.16 123.54 L565.05 123.16 L567.93 123.14 L570.81 123.41 L573.69 123.86 L576.57 124.40 L579.45 124.94 L582.34 125.38 L585.22 125.63 L588.10 125.58 L590.98 125.18 L593.86 124.43 L596.74 123.35 L599.63 122.00 L602.51 120.38 L605.39 118.55 L608.27 116.52 L611.15 114.33 L614.03 112.02 L616.92 109.61 L619.80 107.13 L622.68 104.63" fill="none" stroke="#1a1a1a" stroke-width="0.75"/>
<circle cx="415.20" cy="156.51" r="3.40" fill="#101010" stroke="#111" stroke-width="0.8"/>
<circle cx="449.78" cy="146.79" r="3.40" fill="#101010" stroke="#111" stroke-width="0.8"/>
<circle cx="484.36" cy="154.33" r="3.40" fill="#101010" stroke="#111" stroke-width="0.8"/>
<circle cx="518.94" cy="168.52" r="3.40" fill="#101010" stroke="#111" stroke-width="0.8"/>
<circle cx="553.52" cy="162.00" r="3.40" fill="#101010" stroke="#111" stroke-width="0.8"/>
<circle cx="588.10" cy="162.38" r="3.40" fill="#101010" stroke="#111" stroke-width="0.8"/>
<circle cx="622.68" cy="146.67" r="3.40" fill="#101010" stroke="#111" stroke-width="0.8"/>
<circle cx="415.20" cy="131.08" r="3.40" fill="#ee2c24" stroke="#111" stroke-width="0.8"/>
<circle cx="449.78" cy="142.58" r="3.40" fill="#ee2c24" stroke="#111" stroke-width="0.8"/>
<circle cx="484.36" cy="114.47" r="3.40" fill="#ee2c24" stroke="#111" stroke-width="0.8"/>
<circle cx="518.94" cy="136.06" r="3.40" fill="#ee2c24" stroke="#111" stroke-width="0.8"/>
<circle cx="553.52" cy="140.92" r="3.40" fill="#ee2c24" stroke="#111" stroke-width="0.8"/>
<circle cx="588.10" cy="142.58" r="3.40" fill="#ee2c24" stroke="#111" stroke-width="0.8"/>
<circle cx="622.68" cy="113.44" r="3.40" fill="#ee2c24" stroke="#111" stroke-width="0.8"/>
<path d="M415.20 137.26L418.75 131.14L411.65 131.14Z" fill="#03923c" stroke="#111" stroke-width="0.8" stroke-linejoin="miter"/>
<path d="M449.78 138.16L453.33 132.03L446.23 132.03Z" fill="#03923c" stroke="#111" stroke-width="0.8" stroke-linejoin="miter"/>
<path d="M484.36 113.88L487.91 107.75L480.81 107.75Z" fill="#03923c" stroke="#111" stroke-width="0.8" stroke-linejoin="miter"/>
<path d="M518.94 117.46L522.49 111.33L515.39 111.33Z" fill="#03923c" stroke="#111" stroke-width="0.8" stroke-linejoin="miter"/>
<path d="M553.52 129.21L557.07 123.09L549.97 123.09Z" fill="#03923c" stroke="#111" stroke-width="0.8" stroke-linejoin="miter"/>
<path d="M588.10 141.73L591.65 135.61L584.55 135.61Z" fill="#03923c" stroke="#111" stroke-width="0.8" stroke-linejoin="miter"/>
<path d="M622.68 66.73L626.23 60.60L619.13 60.60Z" fill="#03923c" stroke="#111" stroke-width="0.8" stroke-linejoin="miter"/>
<path d="M415.20 117.36L418.75 123.48L411.65 123.48Z" fill="#f6ec00" stroke="#111" stroke-width="0.8" stroke-linejoin="miter"/>
<path d="M449.78 124.13L453.33 130.25L446.23 130.25Z" fill="#f6ec00" stroke="#111" stroke-width="0.8" stroke-linejoin="miter"/>
<path d="M484.36 119.40L487.91 125.53L480.81 125.53Z" fill="#f6ec00" stroke="#111" stroke-width="0.8" stroke-linejoin="miter"/>
<path d="M518.94 130.77L522.49 136.90L515.39 136.90Z" fill="#f6ec00" stroke="#111" stroke-width="0.8" stroke-linejoin="miter"/>
<path d="M553.52 121.57L557.07 127.70L549.97 127.70Z" fill="#f6ec00" stroke="#111" stroke-width="0.8" stroke-linejoin="miter"/>
<path d="M588.10 126.04L591.65 132.17L584.55 132.17Z" fill="#f6ec00" stroke="#111" stroke-width="0.8" stroke-linejoin="miter"/>
<path d="M622.68 69.31L626.23 75.44L619.13 75.44Z" fill="#f6ec00" stroke="#111" stroke-width="0.8" stroke-linejoin="miter"/>
<rect x="412.25" y="77.91" width="5.90" height="5.90" fill="#40248a" stroke="#111" stroke-width="0.8"/>
<rect x="446.83" y="122.63" width="5.90" height="5.90" fill="#40248a" stroke="#111" stroke-width="0.8"/>
<rect x="481.41" y="129.41" width="5.90" height="5.90" fill="#40248a" stroke="#111" stroke-width="0.8"/>
<rect x="515.99" y="122.25" width="5.90" height="5.90" fill="#40248a" stroke="#111" stroke-width="0.8"/>
<rect x="550.57" y="149.98" width="5.90" height="5.90" fill="#40248a" stroke="#111" stroke-width="0.8"/>
<rect x="585.15" y="149.59" width="5.90" height="5.90" fill="#40248a" stroke="#111" stroke-width="0.8"/>
<rect x="619.73" y="81.11" width="5.90" height="5.90" fill="#40248a" stroke="#111" stroke-width="0.8"/>
<rect x="412.25" y="90.94" width="5.90" height="5.90" fill="#ea2990" stroke="#111" stroke-width="0.8"/>
<rect x="446.83" y="132.60" width="5.90" height="5.90" fill="#ea2990" stroke="#111" stroke-width="0.8"/>
<rect x="481.41" y="125.32" width="5.90" height="5.90" fill="#ea2990" stroke="#111" stroke-width="0.8"/>
<rect x="515.99" y="92.22" width="5.90" height="5.90" fill="#ea2990" stroke="#111" stroke-width="0.8"/>
<rect x="550.57" y="129.41" width="5.90" height="5.90" fill="#ea2990" stroke="#111" stroke-width="0.8"/>
<rect x="585.15" y="126.72" width="5.90" height="5.90" fill="#ea2990" stroke="#111" stroke-width="0.8"/>
<rect x="619.73" y="91.20" width="5.90" height="5.90" fill="#ea2990" stroke="#111" stroke-width="0.8"/>
<path d="M415.20 111.51L419.05 115.36L415.20 119.21L411.35 115.36Z" fill="#089fe2" stroke="#111" stroke-width="0.8"/>
<path d="M449.78 109.21L453.63 113.06L449.78 116.91L445.93 113.06Z" fill="#089fe2" stroke="#111" stroke-width="0.8"/>
<path d="M484.36 122.63L488.21 126.48L484.36 130.33L480.51 126.48Z" fill="#089fe2" stroke="#111" stroke-width="0.8"/>
<path d="M518.94 162.11L522.79 165.96L518.94 169.81L515.09 165.96Z" fill="#089fe2" stroke="#111" stroke-width="0.8"/>
<path d="M553.52 124.03L557.37 127.88L553.52 131.73L549.67 127.88Z" fill="#089fe2" stroke="#111" stroke-width="0.8"/>
<path d="M588.10 121.73L591.95 125.58L588.10 129.43L584.25 125.58Z" fill="#089fe2" stroke="#111" stroke-width="0.8"/>
<path d="M622.68 100.78L626.53 104.63L622.68 108.48L618.83 104.63Z" fill="#089fe2" stroke="#111" stroke-width="0.8"/></g>
<g id="pc"><path d="M82.55 380.00 L85.43 378.13 L88.30 376.26 L91.18 374.39 L94.06 372.54 L96.94 370.71 L99.81 368.89 L102.69 367.10 L105.57 365.34 L108.45 363.61 L111.33 361.91 L114.20 360.25 L117.08 358.63 L119.96 357.07 L122.84 355.57 L125.71 354.16 L128.59 352.87 L131.47 351.71 L134.34 350.71 L137.22 349.89 L140.10 349.28 L142.98 348.88 L145.86 348.74 L148.73 348.86 L151.61 349.27 L154.49 349.99 L157.37 350.96 L160.24 352.14 L163.12 353.47 L166.00 354.91 L168.88 356.39 L171.75 357.86 L174.63 359.27 L177.51 360.56 L180.38 361.69 L183.26 362.59 L186.14 363.22 L189.02 363.54 L191.89 363.59 L194.77 363.40 L197.65 363.04 L200.53 362.56 L203.41 362.01 L206.28 361.43 L209.16 360.89 L212.04 360.43 L214.92 360.10 L217.79 359.95 L220.67 360.04 L223.55 360.41 L226.43 361.01 L229.30 361.80 L232.18 362.73 L235.06 363.77 L237.94 364.85 L240.81 365.94 L243.69 366.98 L246.57 367.93 L249.44 368.74 L252.32 369.37 L255.20 369.76 L258.08 369.88 L260.95 369.74 L263.83 369.37 L266.71 368.79 L269.59 368.01 L272.47 367.08 L275.34 366.00 L278.22 364.81 L281.10 363.53 L283.98 362.17 L286.85 360.77 L289.73 359.34" fill="none" stroke="#1a1a1a" stroke-width="0.75"/>
<path d="M82.55 349.10 L85.43 350.88 L88.30 352.62 L91.18 354.27 L94.06 355.79 L96.94 357.14 L99.81 358.26 L102.69 359.12 L105.57 359.67 L108.45 359.87 L111.33 359.68 L114.20 359.04 L117.08 357.93 L119.96 356.30 L122.84 354.23 L125.71 351.80 L128.59 349.10 L131.47 346.21 L134.34 343.21 L137.22 340.19 L140.10 337.24 L142.98 334.43 L145.86 331.85 L148.73 329.59 L151.61 327.73 L154.49 326.33 L157.37 325.37 L160.24 324.80 L163.12 324.56 L166.00 324.60 L168.88 324.89 L171.75 325.36 L174.63 325.97 L177.51 326.67 L180.38 327.40 L183.26 328.13 L186.14 328.79 L189.02 329.35 L191.89 329.83 L194.77 330.23 L197.65 330.58 L200.53 330.89 L203.41 331.19 L206.28 331.49 L209.16 331.82 L212.04 332.18 L214.92 332.61 L217.79 333.12 L220.67 333.73 L223.55 334.45 L226.43 335.26 L229.30 336.11 L232.18 336.97 L235.06 337.81 L237.94 338.59 L240.81 339.28 L243.69 339.84 L246.57 340.24 L249.44 340.44 L252.32 340.40 L255.20 340.09 L258.08 339.49 L260.95 338.60 L263.83 337.46 L266.71 336.10 L269.59 334.53 L272.47 332.78 L275.34 330.87 L278.22 328.84 L281.10 326.71 L283.98 324.50 L286.85 322.24 L289.73 319.96" fill="none" stroke="#1a1a1a" stroke-width="0.75"/>
<path d="M82.55 350.69 L85.43 353.08 L88.30 355.40 L91.18 357.57 L94.06 359.52 L96.94 361.15 L99.81 362.41 L102.69 363.22 L105.57 363.49 L108.45 363.15 L111.33 362.14 L114.20 360.36 L117.08 357.75 L119.96 354.27 L122.84 350.03 L125.71 345.18 L128.59 339.89 L131.47 334.30 L134.34 328.57 L137.22 322.85 L140.10 317.30 L142.98 312.07 L145.86 307.31 L148.73 303.18 L151.61 299.83 L154.49 297.37 L157.37 295.77 L160.24 294.92 L163.12 294.74 L166.00 295.15 L168.88 296.06 L171.75 297.38 L174.63 299.02 L177.51 300.90 L180.38 302.92 L183.26 305.01 L186.14 307.07 L189.02 309.03 L191.89 310.89 L194.77 312.66 L197.65 314.34 L200.53 315.96 L203.41 317.51 L206.28 319.01 L209.16 320.48 L212.04 321.91 L214.92 323.32 L217.79 324.73 L220.67 326.14 L223.55 327.55 L226.43 328.94 L229.30 330.25 L232.18 331.44 L235.06 332.46 L237.94 333.29 L240.81 333.86 L243.69 334.14 L246.57 334.08 L249.44 333.64 L252.32 332.77 L255.20 331.44 L258.08 329.61 L260.95 327.30 L263.83 324.57 L266.71 321.46 L269.59 318.00 L272.47 314.25 L275.34 310.23 L278.22 306.01 L281.10 301.61 L283.98 297.09 L286.85 292.48 L289.73 287.82" fill="none" stroke="#1a1a1a" stroke-width="0.75"/>
<path d="M82.55 332.50 L85.43 335.85 L88.30 339.12 L91.18 342.26 L94.06 345.18 L96.94 347.82 L99.81 350.11 L102.69 351.97 L105.57 353.34 L108.45 354.14 L111.33 354.31 L114.20 353.77 L117.08 352.45 L119.96 350.32 L122.84 347.48 L125.71 344.06 L128.59 340.21 L131.47 336.05 L134.34 331.73 L137.22 327.39 L140.10 323.16 L142.98 319.17 L145.86 315.57 L148.73 312.49 L151.61 310.07 L154.49 308.41 L157.37 307.46 L160.24 307.14 L163.12 307.37 L166.00 308.05 L168.88 309.11 L171.75 310.47 L174.63 312.04 L177.51 313.73 L180.38 315.46 L183.26 317.16 L186.14 318.72 L189.02 320.10 L191.89 321.29 L194.77 322.32 L197.65 323.20 L200.53 323.97 L203.41 324.64 L206.28 325.24 L209.16 325.78 L212.04 326.30 L214.92 326.81 L217.79 327.34 L220.67 327.91 L223.55 328.52 L226.43 329.16 L229.30 329.78 L232.18 330.35 L235.06 330.81 L237.94 331.13 L240.81 331.28 L243.69 331.20 L246.57 330.87 L249.44 330.23 L252.32 329.26 L255.20 327.91 L258.08 326.15 L260.95 324.00 L263.83 321.50 L266.71 318.69 L269.59 315.60 L272.47 312.26 L275.34 308.72 L278.22 304.99 L281.10 301.13 L283.98 297.17 L286.85 293.13 L289.73 289.06" fill="none" stroke="#1a1a1a" stroke-width="0.75"/>
<path d="M82.55 316.96 L85.43 316.82 L88.30 316.69 L91.18 316.60 L94.06 316.55 L96.94 316.56 L99.81 316.65 L102.69 316.83 L105.57 317.11 L108.45 317.52 L111.33 318.06 L114.20 318.75 L117.08 319.61 L119.96 320.64 L122.84 321.81 L125.71 323.07 L128.59 324.39 L131.47 325.71 L134.34 327.00 L137.22 328.22 L140.10 329.31 L142.98 330.24 L145.86 330.96 L148.73 331.43 L151.61 331.61 L154.49 331.48 L157.37 331.09 L160.24 330.52 L163.12 329.85 L166.00 329.17 L168.88 328.55 L171.75 328.06 L174.63 327.80 L177.51 327.84 L180.38 328.26 L183.26 329.14 L186.14 330.56 L189.02 332.56 L191.89 335.08 L194.77 338.01 L197.65 341.25 L200.53 344.69 L203.41 348.24 L206.28 351.78 L209.16 355.22 L212.04 358.46 L214.92 361.38 L217.79 363.88 L220.67 365.87 L223.55 367.26 L226.43 368.07 L229.30 368.32 L232.18 368.06 L235.06 367.33 L237.94 366.15 L240.81 364.56 L243.69 362.60 L246.57 360.30 L249.44 357.70 L252.32 354.84 L255.20 351.75 L258.08 348.45 L260.95 344.99 L263.83 341.36 L266.71 337.58 L269.59 333.67 L272.47 329.65 L275.34 325.54 L278.22 321.34 L281.10 317.08 L283.98 312.77 L286.85 308.43 L289.73 304.07" fill="none" stroke="#1a1a1a" stroke-width="0.75"/>
<path d="M82.55 308.31 L85.43 317.39 L88.30 326.34 L91.18 335.03 L94.06 343.32 L96.94 351.07 L99.81 358.17 L102.69 364.46 L105.57 369.82 L108.45 374.12 L111.33 377.22 L114.20 378.99 L117.08 379.29 L119.96 378.06 L122.84 375.46 L125.71 371.71 L128.59 367.03 L131.47 361.65 L134.34 355.79 L137.22 349.68 L140.10 343.54 L142.98 337.59 L145.86 332.06 L148.73 327.17 L151.61 323.14 L154.49 320.14 L157.37 318.12 L160.24 316.95 L163.12 316.52 L166.00 316.72 L168.88 317.43 L171.75 318.54 L174.63 319.92 L177.51 321.47 L180.38 323.07 L183.26 324.61 L186.14 325.96 L189.02 327.05 L191.89 327.88 L194.77 328.49 L197.65 328.92 L200.53 329.21 L203.41 329.41 L206.28 329.55 L209.16 329.67 L212.04 329.80 L214.92 330.00 L217.79 330.30 L220.67 330.73 L223.55 331.33 L226.43 332.06 L229.30 332.87 L232.18 333.72 L235.06 334.56 L237.94 335.35 L240.81 336.02 L243.69 336.55 L246.57 336.88 L249.44 336.96 L252.32 336.75 L255.20 336.21 L258.08 335.28 L260.95 334.01 L263.83 332.41 L266.71 330.52 L269.59 328.37 L272.47 326.00 L275.34 323.44 L278.22 320.71 L281.10 317.85 L283.98 314.90 L286.85 311.88 L289.73 308.84" fill="none" stroke="#1a1a1a" stroke-width="0.75"/>
<path d="M82.55 345.56 L85.43 346.04 L88.30 346.49 L91.18 346.87 L94.06 347.16 L96.94 347.33 L99.81 347.34 L102.69 347.16 L105.57 346.77 L108.45 346.12 L111.33 345.20 L114.20 343.96 L117.08 342.39 L119.96 340.45 L122.84 338.22 L125.71 335.78 L128.59 333.19 L131.47 330.55 L134.34 327.92 L137.22 325.40 L140.10 323.04 L142.98 320.95 L145.86 319.18 L148.73 317.82 L151.61 316.96 L154.49 316.64 L157.37 316.81 L160.24 317.40 L163.12 318.34 L166.00 319.55 L168.88 320.96 L171.75 322.50 L174.63 324.09 L177.51 325.66 L180.38 327.13 L183.26 328.43 L186.14 329.50 L189.02 330.26 L191.89 330.73 L194.77 330.94 L197.65 330.90 L200.53 330.66 L203.41 330.22 L206.28 329.62 L209.16 328.89 L212.04 328.04 L214.92 327.11 L217.79 326.11 L220.67 325.08 L223.55 324.04 L226.43 322.99 L229.30 321.96 L232.18 320.93 L235.06 319.93 L237.94 318.97 L240.81 318.04 L243.69 317.16 L246.57 316.34 L249.44 315.59 L252.32 314.91 L255.20 314.31 L258.08 313.80 L260.95 313.37 L263.83 313.02 L266.71 312.74 L269.59 312.51 L272.47 312.35 L275.34 312.22 L278.22 312.13 L281.10 312.08 L283.98 312.04 L286.85 312.03 L289.73 312.01" fill="none" stroke="#1a1a1a" stroke-width="0.75"/>
<circle cx="82.55" cy="380.00" r="3.40" fill="#101010" stroke="#111" stroke-width="0.8"/>
<circle cx="117.08" cy="358.63" r="3.40" fill="#101010" stroke="#111" stroke-width="0.8"/>
<circle cx="151.61" cy="349.27" r="3.40" fill="#101010" stroke="#111" stroke-width="0.8"/>
<circle cx="186.14" cy="363.22" r="3.40" fill="#101010" stroke="#111" stroke-width="0.8"/>
<circle cx="220.67" cy="360.04" r="3.40" fill="#101010" stroke="#111" stroke-width="0.8"/>
<circle cx="255.20" cy="369.76" r="3.40" fill="#101010" stroke="#111" stroke-width="0.8"/>
<circle cx="289.73" cy="359.34" r="3.40" fill="#101010" stroke="#111" stroke-width="0.8"/>
<circle cx="82.55" cy="349.10" r="3.40" fill="#ee2c24" stroke="#111" stroke-width="0.8"/>
<circle cx="117.08" cy="357.93" r="3.40" fill="#ee2c24" stroke="#111" stroke-width="0.8"/>
<circle cx="151.61" cy="327.73" r="3.40" fill="#ee2c24" stroke="#111" stroke-width="0.8"/>
<circle cx="186.14" cy="328.79" r="3.40" fill="#ee2c24" stroke="#111" stroke-width="0.8"/>
<circle cx="220.67" cy="333.73" r="3.40" fill="#ee2c24" stroke="#111" stroke-width="0.8"/>
<circle cx="255.20" cy="340.09" r="3.40" fill="#ee2c24" stroke="#111" stroke-width="0.8"/>
<circle cx="289.73" cy="319.96" r="3.40" fill="#ee2c24" stroke="#111" stroke-width="0.8"/>
<path d="M82.55 354.19L86.10 348.06L79.00 348.06Z" fill="#03923c" stroke="#111" stroke-width="0.8" stroke-linejoin="miter"/>
<path d="M117.08 361.25L120.63 355.12L113.53 355.12Z" fill="#03923c" stroke="#111" stroke-width="0.8" stroke-linejoin="miter"/>
<path d="M151.61 303.33L155.16 297.20L148.06 297.20Z" fill="#03923c" stroke="#111" stroke-width="0.8" stroke-linejoin="miter"/>
<path d="M186.14 310.57L189.69 304.44L182.59 304.44Z" fill="#03923c" stroke="#111" stroke-width="0.8" stroke-linejoin="miter"/>
<path d="M220.67 329.64L224.22 323.52L217.12 323.52Z" fill="#03923c" stroke="#111" stroke-width="0.8" stroke-linejoin="miter"/>
<path d="M255.20 334.94L258.75 328.81L251.65 328.81Z" fill="#03923c" stroke="#111" stroke-width="0.8" stroke-linejoin="miter"/>
<path d="M289.73 291.32L293.28 285.20L286.18 285.20Z" fill="#03923c" stroke="#111" stroke-width="0.8" stroke-linejoin="miter"/>
<path d="M82.55 329.00L86.10 335.12L79.00 335.12Z" fill="#f6ec00" stroke="#111" stroke-width="0.8" stroke-linejoin="miter"/>
<path d="M117.08 348.95L120.63 355.08L113.53 355.08Z" fill="#f6ec00" stroke="#111" stroke-width="0.8" stroke-linejoin="miter"/>
<path d="M151.61 306.57L155.16 312.70L148.06 312.70Z" fill="#f6ec00" stroke="#111" stroke-width="0.8" stroke-linejoin="miter"/>
<path d="M186.14 315.22L189.69 321.35L182.59 321.35Z" fill="#f6ec00" stroke="#111" stroke-width="0.8" stroke-linejoin="miter"/>
<path d="M220.67 324.41L224.22 330.53L217.12 330.53Z" fill="#f6ec00" stroke="#111" stroke-width="0.8" stroke-linejoin="miter"/>
<path d="M255.20 324.41L258.75 330.53L251.65 330.53Z" fill="#f6ec00" stroke="#111" stroke-width="0.8" stroke-linejoin="miter"/>
<path d="M289.73 285.56L293.28 291.68L286.18 291.68Z" fill="#f6ec00" stroke="#111" stroke-width="0.8" stroke-linejoin="miter"/>
<rect x="79.60" y="314.01" width="5.90" height="5.90" fill="#40248a" stroke="#111" stroke-width="0.8"/>
<rect x="114.13" y="316.66" width="5.90" height="5.90" fill="#40248a" stroke="#111" stroke-width="0.8"/>
<rect x="148.66" y="328.66" width="5.90" height="5.90" fill="#40248a" stroke="#111" stroke-width="0.8"/>
<rect x="183.19" y="327.61" width="5.90" height="5.90" fill="#40248a" stroke="#111" stroke-width="0.8"/>
<rect x="217.72" y="362.92" width="5.90" height="5.90" fill="#40248a" stroke="#111" stroke-width="0.8"/>
<rect x="252.25" y="348.80" width="5.90" height="5.90" fill="#40248a" stroke="#111" stroke-width="0.8"/>
<rect x="286.78" y="301.12" width="5.90" height="5.90" fill="#40248a" stroke="#111" stroke-width="0.8"/>
<rect x="79.60" y="305.36" width="5.90" height="5.90" fill="#ea2990" stroke="#111" stroke-width="0.8"/>
<rect x="114.13" y="376.34" width="5.90" height="5.90" fill="#ea2990" stroke="#111" stroke-width="0.8"/>
<rect x="148.66" y="320.19" width="5.90" height="5.90" fill="#ea2990" stroke="#111" stroke-width="0.8"/>
<rect x="183.19" y="323.01" width="5.90" height="5.90" fill="#ea2990" stroke="#111" stroke-width="0.8"/>
<rect x="217.72" y="327.78" width="5.90" height="5.90" fill="#ea2990" stroke="#111" stroke-width="0.8"/>
<rect x="252.25" y="333.26" width="5.90" height="5.90" fill="#ea2990" stroke="#111" stroke-width="0.8"/>
<rect x="286.78" y="305.89" width="5.90" height="5.90" fill="#ea2990" stroke="#111" stroke-width="0.8"/>
<path d="M82.55 341.71L86.40 345.56L82.55 349.42L78.70 345.56Z" fill="#089fe2" stroke="#111" stroke-width="0.8"/>
<path d="M117.08 338.54L120.93 342.39L117.08 346.24L113.23 342.39Z" fill="#089fe2" stroke="#111" stroke-width="0.8"/>
<path d="M151.61 313.11L155.46 316.96L151.61 320.81L147.76 316.96Z" fill="#089fe2" stroke="#111" stroke-width="0.8"/>
<path d="M186.14 325.65L189.99 329.50L186.14 333.35L182.29 329.50Z" fill="#089fe2" stroke="#111" stroke-width="0.8"/>
<path d="M220.67 321.23L224.52 325.08L220.67 328.93L216.82 325.08Z" fill="#089fe2" stroke="#111" stroke-width="0.8"/>
<path d="M255.20 310.46L259.05 314.31L255.20 318.16L251.35 314.31Z" fill="#089fe2" stroke="#111" stroke-width="0.8"/>
<path d="M289.73 308.16L293.58 312.01L289.73 315.86L285.88 312.01Z" fill="#089fe2" stroke="#111" stroke-width="0.8"/></g>
<g id="pd"><path d="M415.20 415.39 L418.08 414.86 L420.96 414.34 L423.84 413.81 L426.73 413.30 L429.61 412.79 L432.49 412.29 L435.37 411.80 L438.25 411.33 L441.13 410.88 L444.02 410.45 L446.90 410.03 L449.78 409.64 L452.66 409.28 L455.54 408.94 L458.42 408.65 L461.31 408.40 L464.19 408.20 L467.07 408.06 L469.95 407.99 L472.83 407.99 L475.72 408.06 L478.60 408.22 L481.48 408.47 L484.36 408.82 L487.24 409.27 L490.12 409.79 L493.00 410.35 L495.89 410.93 L498.77 411.49 L501.65 412.00 L504.53 412.44 L507.41 412.78 L510.29 412.97 L513.18 413.00 L516.06 412.83 L518.94 412.44 L521.82 411.79 L524.70 410.94 L527.58 409.90 L530.47 408.72 L533.35 407.45 L536.23 406.12 L539.11 404.77 L541.99 403.44 L544.88 402.17 L547.76 401.00 L550.64 399.97 L553.52 399.12 L556.40 398.48 L559.28 398.04 L562.16 397.77 L565.05 397.65 L567.93 397.66 L570.81 397.78 L573.69 397.98 L576.57 398.24 L579.45 398.54 L582.34 398.86 L585.22 399.17 L588.10 399.45 L590.98 399.69 L593.86 399.87 L596.74 400.02 L599.63 400.13 L602.51 400.20 L605.39 400.24 L608.27 400.26 L611.15 400.25 L614.03 400.23 L616.92 400.20 L619.80 400.16 L622.68 400.11" fill="none" stroke="#1a1a1a" stroke-width="0.75"/>
<path d="M415.20 345.87 L418.08 352.23 L420.96 358.50 L423.84 364.61 L426.73 370.47 L429.61 375.99 L432.49 381.11 L435.37 385.73 L438.25 389.76 L441.13 393.14 L444.02 395.77 L446.90 397.57 L449.78 398.47 L452.66 398.40 L455.54 397.48 L458.42 395.83 L461.31 393.59 L464.19 390.89 L467.07 387.87 L469.95 384.67 L472.83 381.41 L475.72 378.23 L478.60 375.27 L481.48 372.65 L484.36 370.52 L487.24 368.98 L490.12 367.99 L493.00 367.48 L495.89 367.39 L498.77 367.65 L501.65 368.20 L504.53 368.97 L507.41 369.90 L510.29 370.91 L513.18 371.94 L516.06 372.93 L518.94 373.81 L521.82 374.53 L524.70 375.10 L527.58 375.55 L530.47 375.91 L533.35 376.21 L536.23 376.47 L539.11 376.74 L541.99 377.03 L544.88 377.39 L547.76 377.82 L550.64 378.37 L553.52 379.07 L556.40 379.92 L559.28 380.88 L562.16 381.86 L565.05 382.80 L567.93 383.63 L570.81 384.26 L573.69 384.64 L576.57 384.68 L579.45 384.31 L582.34 383.47 L585.22 382.07 L588.10 380.06 L590.98 377.37 L593.86 374.04 L596.74 370.13 L599.63 365.70 L602.51 360.80 L605.39 355.50 L608.27 349.85 L611.15 343.92 L614.03 337.75 L616.92 331.40 L619.80 324.94 L622.68 318.42" fill="none" stroke="#1a1a1a" stroke-width="0.75"/>
<path d="M415.20 364.28 L418.08 365.19 L420.96 366.08 L423.84 366.95 L426.73 367.77 L429.61 368.54 L432.49 369.24 L435.37 369.85 L438.25 370.37 L441.13 370.78 L444.02 371.06 L446.90 371.20 L449.78 371.18 L452.66 371.00 L455.54 370.66 L458.42 370.15 L461.31 369.48 L464.19 368.65 L467.07 367.66 L469.95 366.52 L472.83 365.22 L475.72 363.77 L478.60 362.17 L481.48 360.42 L484.36 358.53 L487.24 356.50 L490.12 354.38 L493.00 352.24 L495.89 350.14 L498.77 348.14 L501.65 346.29 L504.53 344.67 L507.41 343.32 L510.29 342.31 L513.18 341.70 L516.06 341.55 L518.94 341.93 L521.82 342.86 L524.70 344.32 L527.58 346.24 L530.47 348.56 L533.35 351.23 L536.23 354.17 L539.11 357.35 L541.99 360.68 L544.88 364.12 L547.76 367.61 L550.64 371.07 L553.52 374.47 L556.40 377.73 L559.28 380.77 L562.16 383.54 L565.05 385.94 L567.93 387.91 L570.81 389.36 L573.69 390.23 L576.57 390.45 L579.45 389.92 L582.34 388.58 L585.22 386.36 L588.10 383.18 L590.98 378.99 L593.86 373.84 L596.74 367.84 L599.63 361.05 L602.51 353.58 L605.39 345.50 L608.27 336.90 L611.15 327.87 L614.03 318.50 L616.92 308.87 L619.80 299.06 L622.68 289.17" fill="none" stroke="#1a1a1a" stroke-width="0.75"/>
<path d="M415.20 356.39 L418.08 358.73 L420.96 361.06 L423.84 363.38 L426.73 365.69 L429.61 367.98 L432.49 370.24 L435.37 372.47 L438.25 374.67 L441.13 376.83 L444.02 378.94 L446.90 381.01 L449.78 383.02 L452.66 384.96 L455.54 386.79 L458.42 388.45 L461.31 389.90 L464.19 391.07 L467.07 391.92 L469.95 392.40 L472.83 392.45 L475.72 392.01 L478.60 391.04 L481.48 389.49 L484.36 387.29 L487.24 384.43 L490.12 381.03 L493.00 377.21 L495.89 373.13 L498.77 368.94 L501.65 364.76 L504.53 360.75 L507.41 357.05 L510.29 353.79 L513.18 351.14 L516.06 349.21 L518.94 348.17 L521.82 348.11 L524.70 348.94 L527.58 350.54 L530.47 352.79 L533.35 355.55 L536.23 358.70 L539.11 362.12 L541.99 365.68 L544.88 369.24 L547.76 372.69 L550.64 375.90 L553.52 378.74 L556.40 381.12 L559.28 383.03 L562.16 384.52 L565.05 385.63 L567.93 386.38 L570.81 386.82 L573.69 386.97 L576.57 386.89 L579.45 386.59 L582.34 386.13 L585.22 385.53 L588.10 384.82 L590.98 384.05 L593.86 383.22 L596.74 382.33 L599.63 381.40 L602.51 380.42 L605.39 379.41 L608.27 378.36 L611.15 377.28 L614.03 376.19 L616.92 375.08 L619.80 373.95 L622.68 372.83" fill="none" stroke="#1a1a1a" stroke-width="0.75"/>
<path d="M415.20 347.35 L418.08 347.82 L420.96 348.30 L423.84 348.80 L426.73 349.36 L429.61 349.97 L432.49 350.65 L435.37 351.42 L438.25 352.28 L441.13 353.27 L444.02 354.38 L446.90 355.63 L449.78 357.05 L452.66 358.62 L455.54 360.33 L458.42 362.13 L461.31 363.97 L464.19 365.82 L467.07 367.64 L469.95 369.37 L472.83 370.99 L475.72 372.45 L478.60 373.71 L481.48 374.73 L484.36 375.46 L487.24 375.87 L490.12 376.01 L493.00 375.90 L495.89 375.58 L498.77 375.11 L501.65 374.52 L504.53 373.86 L507.41 373.16 L510.29 372.47 L513.18 371.83 L516.06 371.27 L518.94 370.85 L521.82 370.60 L524.70 370.51 L527.58 370.57 L530.47 370.78 L533.35 371.12 L536.23 371.59 L539.11 372.17 L541.99 372.85 L544.88 373.63 L547.76 374.50 L550.64 375.44 L553.52 376.44 L556.40 377.49 L559.28 378.56 L562.16 379.58 L565.05 380.52 L567.93 381.34 L570.81 381.98 L573.69 382.39 L576.57 382.55 L579.45 382.38 L582.34 381.86 L585.22 380.94 L588.10 379.56 L590.98 377.71 L593.86 375.39 L596.74 372.67 L599.63 369.57 L602.51 366.14 L605.39 362.42 L608.27 358.45 L611.15 354.28 L614.03 349.94 L616.92 345.47 L619.80 340.93 L622.68 336.34" fill="none" stroke="#1a1a1a" stroke-width="0.75"/>
<path d="M415.20 372.66 L418.08 369.12 L420.96 365.64 L423.84 362.28 L426.73 359.13 L429.61 356.23 L432.49 353.66 L435.37 351.48 L438.25 349.75 L441.13 348.54 L444.02 347.91 L446.90 347.93 L449.78 348.66 L452.66 350.15 L455.54 352.28 L458.42 354.94 L461.31 358.00 L464.19 361.34 L467.07 364.83 L469.95 368.34 L472.83 371.75 L475.72 374.93 L478.60 377.76 L481.48 380.12 L484.36 381.86 L487.24 382.92 L490.12 383.36 L493.00 383.27 L495.89 382.76 L498.77 381.94 L501.65 380.90 L504.53 379.77 L507.41 378.63 L510.29 377.59 L513.18 376.75 L516.06 376.23 L518.94 376.11 L521.82 376.49 L524.70 377.30 L527.58 378.48 L530.47 379.94 L533.35 381.62 L536.23 383.43 L539.11 385.30 L541.99 387.16 L544.88 388.92 L547.76 390.51 L550.64 391.85 L553.52 392.88 L556.40 393.52 L559.28 393.82 L562.16 393.83 L565.05 393.60 L567.93 393.18 L570.81 392.62 L573.69 391.99 L576.57 391.32 L579.45 390.68 L582.34 390.11 L585.22 389.68 L588.10 389.43 L590.98 389.39 L593.86 389.58 L596.74 389.96 L599.63 390.52 L602.51 391.23 L605.39 392.08 L608.27 393.05 L611.15 394.11 L614.03 395.25 L616.92 396.46 L619.80 397.70 L622.68 398.96" fill="none" stroke="#1a1a1a" stroke-width="0.75"/>
<path d="M415.20 337.98 L418.08 342.35 L420.96 346.68 L423.84 350.92 L426.73 355.04 L429.61 359.00 L432.49 362.76 L435.37 366.27 L438.25 369.50 L441.13 372.40 L444.02 374.93 L446.90 377.06 L449.78 378.74 L452.66 379.95 L455.54 380.74 L458.42 381.16 L461.31 381.30 L464.19 381.20 L467.07 380.94 L469.95 380.58 L472.83 380.18 L475.72 379.82 L478.60 379.55 L481.48 379.45 L484.36 379.56 L487.24 379.95 L490.12 380.58 L493.00 381.41 L495.89 382.37 L498.77 383.43 L501.65 384.54 L504.53 385.65 L507.41 386.70 L510.29 387.65 L513.18 388.46 L516.06 389.07 L518.94 389.43 L521.82 389.50 L524.70 389.32 L527.58 388.89 L530.47 388.27 L533.35 387.47 L536.23 386.52 L539.11 385.47 L541.99 384.33 L544.88 383.14 L547.76 381.93 L550.64 380.73 L553.52 379.56 L556.40 378.47 L559.28 377.44 L562.16 376.49 L565.05 375.61 L567.93 374.80 L570.81 374.07 L573.69 373.42 L576.57 372.84 L579.45 372.35 L582.34 371.93 L585.22 371.60 L588.10 371.35 L590.98 371.18 L593.86 371.08 L596.74 371.06 L599.63 371.10 L602.51 371.19 L605.39 371.33 L608.27 371.52 L611.15 371.74 L614.03 371.99 L616.92 372.25 L619.80 372.54 L622.68 372.83" fill="none" stroke="#1a1a1a" stroke-width="0.75"/>
<circle cx="415.20" cy="415.39" r="3.40" fill="#101010" stroke="#111" stroke-width="0.8"/>
<circle cx="449.78" cy="409.64" r="3.40" fill="#101010" stroke="#111" stroke-width="0.8"/>
<circle cx="484.36" cy="408.82" r="3.40" fill="#101010" stroke="#111" stroke-width="0.8"/>
<circle cx="518.94" cy="412.44" r="3.40" fill="#101010" stroke="#111" stroke-width="0.8"/>
<circle cx="553.52" cy="399.12" r="3.40" fill="#101010" stroke="#111" stroke-width="0.8"/>
<circle cx="588.10" cy="399.45" r="3.40" fill="#101010" stroke="#111" stroke-width="0.8"/>
<circle cx="622.68" cy="400.11" r="3.40" fill="#101010" stroke="#111" stroke-width="0.8"/>
<circle cx="415.20" cy="345.87" r="3.40" fill="#ee2c24" stroke="#111" stroke-width="0.8"/>
<circle cx="449.78" cy="398.47" r="3.40" fill="#ee2c24" stroke="#111" stroke-width="0.8"/>
<circle cx="484.36" cy="370.52" r="3.40" fill="#ee2c24" stroke="#111" stroke-width="0.8"/>
<circle cx="518.94" cy="373.81" r="3.40" fill="#ee2c24" stroke="#111" stroke-width="0.8"/>
<circle cx="553.52" cy="379.07" r="3.40" fill="#ee2c24" stroke="#111" stroke-width="0.8"/>
<circle cx="588.10" cy="380.06" r="3.40" fill="#ee2c24" stroke="#111" stroke-width="0.8"/>
<circle cx="622.68" cy="318.42" r="3.40" fill="#ee2c24" stroke="#111" stroke-width="0.8"/>
<path d="M415.20 367.78L418.75 361.65L411.65 361.65Z" fill="#03923c" stroke="#111" stroke-width="0.8" stroke-linejoin="miter"/>
<path d="M449.78 374.68L453.33 368.56L446.23 368.56Z" fill="#03923c" stroke="#111" stroke-width="0.8" stroke-linejoin="miter"/>
<path d="M484.36 362.03L487.91 355.90L480.81 355.90Z" fill="#03923c" stroke="#111" stroke-width="0.8" stroke-linejoin="miter"/>
<path d="M518.94 345.43L522.49 339.30L515.39 339.30Z" fill="#03923c" stroke="#111" stroke-width="0.8" stroke-linejoin="miter"/>
<path d="M553.52 377.97L557.07 371.84L549.97 371.84Z" fill="#03923c" stroke="#111" stroke-width="0.8" stroke-linejoin="miter"/>
<path d="M588.10 386.68L591.65 380.55L584.55 380.55Z" fill="#03923c" stroke="#111" stroke-width="0.8" stroke-linejoin="miter"/>
<path d="M622.68 292.67L626.23 286.54L619.13 286.54Z" fill="#03923c" stroke="#111" stroke-width="0.8" stroke-linejoin="miter"/>
<path d="M415.20 352.89L418.75 359.01L411.65 359.01Z" fill="#f6ec00" stroke="#111" stroke-width="0.8" stroke-linejoin="miter"/>
<path d="M449.78 379.52L453.33 385.64L446.23 385.64Z" fill="#f6ec00" stroke="#111" stroke-width="0.8" stroke-linejoin="miter"/>
<path d="M484.36 383.79L487.91 389.91L480.81 389.91Z" fill="#f6ec00" stroke="#111" stroke-width="0.8" stroke-linejoin="miter"/>
<path d="M518.94 344.67L522.49 350.80L515.39 350.80Z" fill="#f6ec00" stroke="#111" stroke-width="0.8" stroke-linejoin="miter"/>
<path d="M553.52 375.24L557.07 381.37L549.97 381.37Z" fill="#f6ec00" stroke="#111" stroke-width="0.8" stroke-linejoin="miter"/>
<path d="M588.10 381.32L591.65 387.45L584.55 387.45Z" fill="#f6ec00" stroke="#111" stroke-width="0.8" stroke-linejoin="miter"/>
<path d="M622.68 369.33L626.23 375.45L619.13 375.45Z" fill="#f6ec00" stroke="#111" stroke-width="0.8" stroke-linejoin="miter"/>
<rect x="412.25" y="344.40" width="5.90" height="5.90" fill="#40248a" stroke="#111" stroke-width="0.8"/>
<rect x="446.83" y="354.10" width="5.90" height="5.90" fill="#40248a" stroke="#111" stroke-width="0.8"/>
<rect x="481.41" y="372.51" width="5.90" height="5.90" fill="#40248a" stroke="#111" stroke-width="0.8"/>
<rect x="515.99" y="367.90" width="5.90" height="5.90" fill="#40248a" stroke="#111" stroke-width="0.8"/>
<rect x="550.57" y="373.49" width="5.90" height="5.90" fill="#40248a" stroke="#111" stroke-width="0.8"/>
<rect x="585.15" y="376.61" width="5.90" height="5.90" fill="#40248a" stroke="#111" stroke-width="0.8"/>
<rect x="619.73" y="333.39" width="5.90" height="5.90" fill="#40248a" stroke="#111" stroke-width="0.8"/>
<rect x="412.25" y="369.71" width="5.90" height="5.90" fill="#ea2990" stroke="#111" stroke-width="0.8"/>
<rect x="446.83" y="345.71" width="5.90" height="5.90" fill="#ea2990" stroke="#111" stroke-width="0.8"/>
<rect x="481.41" y="378.91" width="5.90" height="5.90" fill="#ea2990" stroke="#111" stroke-width="0.8"/>
<rect x="515.99" y="373.16" width="5.90" height="5.90" fill="#ea2990" stroke="#111" stroke-width="0.8"/>
<rect x="550.57" y="389.93" width="5.90" height="5.90" fill="#ea2990" stroke="#111" stroke-width="0.8"/>
<rect x="585.15" y="386.48" width="5.90" height="5.90" fill="#ea2990" stroke="#111" stroke-width="0.8"/>
<rect x="619.73" y="396.01" width="5.90" height="5.90" fill="#ea2990" stroke="#111" stroke-width="0.8"/>
<path d="M415.20 334.13L419.05 337.98L415.20 341.83L411.35 337.98Z" fill="#089fe2" stroke="#111" stroke-width="0.8"/>
<path d="M449.78 374.89L453.63 378.74L449.78 382.59L445.93 378.74Z" fill="#089fe2" stroke="#111" stroke-width="0.8"/>
<path d="M484.36 375.71L488.21 379.56L484.36 383.41L480.51 379.56Z" fill="#089fe2" stroke="#111" stroke-width="0.8"/>
<path d="M518.94 385.58L522.79 389.43L518.94 393.28L515.09 389.43Z" fill="#089fe2" stroke="#111" stroke-width="0.8"/>
<path d="M553.52 375.71L557.37 379.56L553.52 383.41L549.67 379.56Z" fill="#089fe2" stroke="#111" stroke-width="0.8"/>
<path d="M588.10 367.50L591.95 371.35L588.10 375.20L584.25 371.35Z" fill="#089fe2" stroke="#111" stroke-width="0.8"/>
<path d="M622.68 368.98L626.53 372.83L622.68 376.68L618.83 372.83Z" fill="#089fe2" stroke="#111" stroke-width="0.8"/></g>
<g id="pe"><path d="M82.55 695.01 L85.43 695.74 L88.30 696.45 L91.18 697.09 L94.06 697.64 L96.94 698.07 L99.81 698.34 L102.69 698.43 L105.57 698.30 L108.45 697.92 L111.33 697.27 L114.20 696.31 L117.08 695.01 L119.96 693.35 L122.84 691.40 L125.71 689.23 L128.59 686.92 L131.47 684.54 L134.34 682.17 L137.22 679.89 L140.10 677.76 L142.98 675.87 L145.86 674.29 L148.73 673.10 L151.61 672.37 L154.49 672.15 L157.37 672.40 L160.24 673.06 L163.12 674.04 L166.00 675.28 L168.88 676.72 L171.75 678.27 L174.63 679.88 L177.51 681.47 L180.38 682.98 L183.26 684.32 L186.14 685.44 L189.02 686.28 L191.89 686.87 L194.77 687.22 L197.65 687.38 L200.53 687.39 L203.41 687.27 L206.28 687.07 L209.16 686.81 L212.04 686.53 L214.92 686.27 L217.79 686.05 L220.67 685.93 L223.55 685.91 L226.43 685.99 L229.30 686.16 L232.18 686.39 L235.06 686.66 L237.94 686.97 L240.81 687.28 L243.69 687.59 L246.57 687.86 L249.44 688.09 L252.32 688.26 L255.20 688.35 L258.08 688.34 L260.95 688.24 L263.83 688.05 L266.71 687.79 L269.59 687.46 L272.47 687.07 L275.34 686.64 L278.22 686.16 L281.10 685.64 L283.98 685.11 L286.85 684.55 L289.73 683.99" fill="none" stroke="#1a1a1a" stroke-width="0.75"/>
<path d="M82.55 643.67 L85.43 645.94 L88.30 648.14 L91.18 650.22 L94.06 652.12 L96.94 653.77 L99.81 655.11 L102.69 656.08 L105.57 656.62 L108.45 656.67 L111.33 656.16 L114.20 655.04 L117.08 653.24 L119.96 650.73 L122.84 647.60 L125.71 643.97 L128.59 639.97 L131.47 635.70 L134.34 631.30 L137.22 626.88 L140.10 622.55 L142.98 618.46 L145.86 614.70 L148.73 611.40 L151.61 608.69 L154.49 606.64 L157.37 605.23 L160.24 604.39 L163.12 604.06 L166.00 604.16 L168.88 604.62 L171.75 605.39 L174.63 606.40 L177.51 607.58 L180.38 608.86 L183.26 610.18 L186.14 611.47 L189.02 612.68 L191.89 613.80 L194.77 614.85 L197.65 615.84 L200.53 616.79 L203.41 617.70 L206.28 618.59 L209.16 619.46 L212.04 620.34 L214.92 621.23 L217.79 622.14 L220.67 623.09 L223.55 624.09 L226.43 625.10 L229.30 626.11 L232.18 627.08 L235.06 627.99 L237.94 628.80 L240.81 629.49 L243.69 630.03 L246.57 630.39 L249.44 630.55 L252.32 630.46 L255.20 630.11 L258.08 629.48 L260.95 628.58 L263.83 627.43 L266.71 626.07 L269.59 624.50 L272.47 622.77 L275.34 620.89 L278.22 618.89 L281.10 616.78 L283.98 614.61 L286.85 612.39 L289.73 610.14" fill="none" stroke="#1a1a1a" stroke-width="0.75"/>
<path d="M82.55 639.56 L85.43 640.77 L88.30 641.93 L91.18 642.99 L94.06 643.92 L96.94 644.65 L99.81 645.15 L102.69 645.37 L105.57 645.25 L108.45 644.76 L111.33 643.84 L114.20 642.44 L117.08 640.53 L119.96 638.07 L122.84 635.15 L125.71 631.86 L128.59 628.32 L131.47 624.62 L134.34 620.87 L137.22 617.16 L140.10 613.61 L142.98 610.32 L145.86 607.38 L148.73 604.91 L151.61 603.00 L154.49 601.72 L157.37 601.04 L160.24 600.85 L163.12 601.10 L166.00 601.69 L168.88 602.54 L171.75 603.58 L174.63 604.72 L177.51 605.88 L180.38 606.98 L183.26 607.94 L186.14 608.69 L189.02 609.15 L191.89 609.35 L194.77 609.33 L197.65 609.11 L200.53 608.76 L203.41 608.29 L206.28 607.75 L209.16 607.17 L212.04 606.60 L214.92 606.07 L217.79 605.63 L220.67 605.30 L223.55 605.11 L226.43 605.07 L229.30 605.14 L232.18 605.31 L235.06 605.56 L237.94 605.86 L240.81 606.21 L243.69 606.57 L246.57 606.94 L249.44 607.28 L252.32 607.59 L255.20 607.84 L258.08 608.01 L260.95 608.11 L263.83 608.15 L266.71 608.13 L269.59 608.06 L272.47 607.94 L275.34 607.78 L278.22 607.59 L281.10 607.37 L283.98 607.13 L286.85 606.88 L289.73 606.63" fill="none" stroke="#1a1a1a" stroke-width="0.75"/>
<path d="M82.55 628.06 L85.43 630.17 L88.30 632.24 L91.18 634.22 L94.06 636.07 L96.94 637.73 L99.81 639.17 L102.69 640.34 L105.57 641.19 L108.45 641.68 L111.33 641.76 L114.20 641.39 L117.08 640.53 L119.96 639.14 L122.84 637.30 L125.71 635.09 L128.59 632.59 L131.47 629.90 L134.34 627.10 L137.22 624.28 L140.10 621.51 L142.98 618.90 L145.86 616.52 L148.73 614.46 L151.61 612.80 L154.49 611.62 L157.37 610.85 L160.24 610.44 L163.12 610.31 L166.00 610.39 L168.88 610.61 L171.75 610.89 L174.63 611.18 L177.51 611.39 L180.38 611.45 L183.26 611.30 L186.14 610.87 L189.02 610.09 L191.89 609.04 L194.77 607.75 L197.65 606.32 L200.53 604.80 L203.41 603.27 L206.28 601.79 L209.16 600.43 L212.04 599.26 L214.92 598.34 L217.79 597.75 L220.67 597.55 L223.55 597.79 L226.43 598.41 L229.30 599.36 L232.18 600.55 L235.06 601.91 L237.94 603.36 L240.81 604.85 L243.69 606.29 L246.57 607.61 L249.44 608.74 L252.32 609.61 L255.20 610.14 L258.08 610.28 L260.95 610.05 L263.83 609.48 L266.71 608.60 L269.59 607.45 L272.47 606.06 L275.34 604.47 L278.22 602.71 L281.10 600.81 L283.98 598.81 L286.85 596.74 L289.73 594.64" fill="none" stroke="#1a1a1a" stroke-width="0.75"/>
<path d="M82.55 619.46 L85.43 620.70 L88.30 621.92 L91.18 623.11 L94.06 624.25 L96.94 625.33 L99.81 626.34 L102.69 627.25 L105.57 628.05 L108.45 628.73 L111.33 629.27 L114.20 629.66 L117.08 629.87 L119.96 629.91 L122.84 629.78 L125.71 629.49 L128.59 629.08 L131.47 628.54 L134.34 627.91 L137.22 627.19 L140.10 626.41 L142.98 625.58 L145.86 624.72 L148.73 623.84 L151.61 622.97 L154.49 622.12 L157.37 621.30 L160.24 620.51 L163.12 619.78 L166.00 619.10 L168.88 618.49 L171.75 617.96 L174.63 617.52 L177.51 617.17 L180.38 616.93 L183.26 616.80 L186.14 616.80 L189.02 616.92 L191.89 617.17 L194.77 617.50 L197.65 617.92 L200.53 618.39 L203.41 618.91 L206.28 619.44 L209.16 619.98 L212.04 620.50 L214.92 620.98 L217.79 621.41 L220.67 621.76 L223.55 622.03 L226.43 622.20 L229.30 622.28 L232.18 622.27 L235.06 622.16 L237.94 621.97 L240.81 621.68 L243.69 621.30 L246.57 620.82 L249.44 620.26 L252.32 619.60 L255.20 618.86 L258.08 618.02 L260.95 617.10 L263.83 616.10 L266.71 615.03 L269.59 613.90 L272.47 612.72 L275.34 611.49 L278.22 610.23 L281.10 608.93 L283.98 607.61 L286.85 606.28 L289.73 604.93" fill="none" stroke="#1a1a1a" stroke-width="0.75"/>
<path d="M82.55 623.94 L85.43 626.79 L88.30 629.58 L91.18 632.26 L94.06 634.79 L96.94 637.10 L99.81 639.15 L102.69 640.87 L105.57 642.22 L108.45 643.15 L111.33 643.59 L114.20 643.50 L117.08 642.83 L119.96 641.54 L122.84 639.72 L125.71 637.50 L128.59 634.98 L131.47 632.28 L134.34 629.52 L137.22 626.80 L140.10 624.25 L142.98 621.99 L145.86 620.11 L148.73 618.75 L151.61 618.01 L154.49 617.97 L157.37 618.56 L160.24 619.66 L163.12 621.16 L166.00 622.94 L168.88 624.89 L171.75 626.90 L174.63 628.84 L177.51 630.62 L180.38 632.10 L183.26 633.18 L186.14 633.75 L189.02 633.71 L191.89 633.13 L194.77 632.09 L197.65 630.66 L200.53 628.94 L203.41 627.01 L206.28 624.94 L209.16 622.83 L212.04 620.75 L214.92 618.80 L217.79 617.05 L220.67 615.59 L223.55 614.47 L226.43 613.69 L229.30 613.18 L232.18 612.92 L235.06 612.84 L237.94 612.92 L240.81 613.10 L243.69 613.34 L246.57 613.60 L249.44 613.82 L252.32 613.98 L255.20 614.01 L258.08 613.90 L260.95 613.63 L263.83 613.23 L266.71 612.71 L269.59 612.08 L272.47 611.36 L275.34 610.55 L278.22 609.68 L281.10 608.75 L283.98 607.78 L286.85 606.79 L289.73 605.78" fill="none" stroke="#1a1a1a" stroke-width="0.75"/>
<path d="M82.55 664.74 L85.43 662.60 L88.30 660.47 L91.18 658.33 L94.06 656.21 L96.94 654.08 L99.81 651.97 L102.69 649.87 L105.57 647.78 L108.45 645.70 L111.33 643.63 L114.20 641.59 L117.08 639.56 L119.96 637.55 L122.84 635.60 L125.71 633.74 L128.59 631.99 L131.47 630.40 L134.34 628.99 L137.22 627.79 L140.10 626.85 L142.98 626.19 L145.86 625.85 L148.73 625.85 L151.61 626.24 L154.49 627.03 L157.37 628.14 L160.24 629.52 L163.12 631.06 L166.00 632.70 L168.88 634.36 L171.75 635.94 L174.63 637.38 L177.51 638.59 L180.38 639.49 L183.26 640.00 L186.14 640.04 L189.02 639.56 L191.89 638.60 L194.77 637.24 L197.65 635.54 L200.53 633.59 L203.41 631.45 L206.28 629.20 L209.16 626.92 L212.04 624.67 L214.92 622.52 L217.79 620.56 L220.67 618.86 L223.55 617.46 L226.43 616.37 L229.30 615.55 L232.18 614.99 L235.06 614.65 L237.94 614.52 L240.81 614.56 L243.69 614.76 L246.57 615.08 L249.44 615.50 L252.32 616.00 L255.20 616.56 L258.08 617.14 L260.95 617.75 L263.83 618.37 L266.71 619.02 L269.59 619.69 L272.47 620.37 L275.34 621.07 L278.22 621.77 L281.10 622.49 L283.98 623.21 L286.85 623.94 L289.73 624.67" fill="none" stroke="#1a1a1a" stroke-width="0.75"/>
<circle cx="82.55" cy="695.01" r="3.40" fill="#101010" stroke="#111" stroke-width="0.8"/>
<circle cx="117.08" cy="695.01" r="3.40" fill="#101010" stroke="#111" stroke-width="0.8"/>
<circle cx="151.61" cy="672.37" r="3.40" fill="#101010" stroke="#111" stroke-width="0.8"/>
<circle cx="186.14" cy="685.44" r="3.40" fill="#101010" stroke="#111" stroke-width="0.8"/>
<circle cx="220.67" cy="685.93" r="3.40" fill="#101010" stroke="#111" stroke-width="0.8"/>
<circle cx="255.20" cy="688.35" r="3.40" fill="#101010" stroke="#111" stroke-width="0.8"/>
<circle cx="289.73" cy="683.99" r="3.40" fill="#101010" stroke="#111" stroke-width="0.8"/>
<circle cx="82.55" cy="643.67" r="3.40" fill="#ee2c24" stroke="#111" stroke-width="0.8"/>
<circle cx="117.08" cy="653.24" r="3.40" fill="#ee2c24" stroke="#111" stroke-width="0.8"/>
<circle cx="151.61" cy="608.69" r="3.40" fill="#ee2c24" stroke="#111" stroke-width="0.8"/>
<circle cx="186.14" cy="611.47" r="3.40" fill="#ee2c24" stroke="#111" stroke-width="0.8"/>
<circle cx="220.67" cy="623.09" r="3.40" fill="#ee2c24" stroke="#111" stroke-width="0.8"/>
<circle cx="255.20" cy="630.11" r="3.40" fill="#ee2c24" stroke="#111" stroke-width="0.8"/>
<circle cx="289.73" cy="610.14" r="3.40" fill="#ee2c24" stroke="#111" stroke-width="0.8"/>
<path d="M82.55 643.06L86.10 636.93L79.00 636.93Z" fill="#03923c" stroke="#111" stroke-width="0.8" stroke-linejoin="miter"/>
<path d="M117.08 644.03L120.63 637.90L113.53 637.90Z" fill="#03923c" stroke="#111" stroke-width="0.8" stroke-linejoin="miter"/>
<path d="M151.61 606.50L155.16 600.37L148.06 600.37Z" fill="#03923c" stroke="#111" stroke-width="0.8" stroke-linejoin="miter"/>
<path d="M186.14 612.19L189.69 606.06L182.59 606.06Z" fill="#03923c" stroke="#111" stroke-width="0.8" stroke-linejoin="miter"/>
<path d="M220.67 608.80L224.22 602.67L217.12 602.67Z" fill="#03923c" stroke="#111" stroke-width="0.8" stroke-linejoin="miter"/>
<path d="M255.20 611.34L258.75 605.21L251.65 605.21Z" fill="#03923c" stroke="#111" stroke-width="0.8" stroke-linejoin="miter"/>
<path d="M289.73 610.13L293.28 604.00L286.18 604.00Z" fill="#03923c" stroke="#111" stroke-width="0.8" stroke-linejoin="miter"/>
<path d="M82.55 624.56L86.10 630.68L79.00 630.68Z" fill="#f6ec00" stroke="#111" stroke-width="0.8" stroke-linejoin="miter"/>
<path d="M117.08 637.03L120.63 643.15L113.53 643.15Z" fill="#f6ec00" stroke="#111" stroke-width="0.8" stroke-linejoin="miter"/>
<path d="M151.61 609.30L155.16 615.43L148.06 615.43Z" fill="#f6ec00" stroke="#111" stroke-width="0.8" stroke-linejoin="miter"/>
<path d="M186.14 607.37L189.69 613.49L182.59 613.49Z" fill="#f6ec00" stroke="#111" stroke-width="0.8" stroke-linejoin="miter"/>
<path d="M220.67 594.05L224.22 600.17L217.12 600.17Z" fill="#f6ec00" stroke="#111" stroke-width="0.8" stroke-linejoin="miter"/>
<path d="M255.20 606.64L258.75 612.76L251.65 612.76Z" fill="#f6ec00" stroke="#111" stroke-width="0.8" stroke-linejoin="miter"/>
<path d="M289.73 591.14L293.28 597.27L286.18 597.27Z" fill="#f6ec00" stroke="#111" stroke-width="0.8" stroke-linejoin="miter"/>
<rect x="79.60" y="616.51" width="5.90" height="5.90" fill="#40248a" stroke="#111" stroke-width="0.8"/>
<rect x="114.13" y="626.92" width="5.90" height="5.90" fill="#40248a" stroke="#111" stroke-width="0.8"/>
<rect x="148.66" y="620.02" width="5.90" height="5.90" fill="#40248a" stroke="#111" stroke-width="0.8"/>
<rect x="183.19" y="613.85" width="5.90" height="5.90" fill="#40248a" stroke="#111" stroke-width="0.8"/>
<rect x="217.72" y="618.81" width="5.90" height="5.90" fill="#40248a" stroke="#111" stroke-width="0.8"/>
<rect x="252.25" y="615.91" width="5.90" height="5.90" fill="#40248a" stroke="#111" stroke-width="0.8"/>
<rect x="286.78" y="601.98" width="5.90" height="5.90" fill="#40248a" stroke="#111" stroke-width="0.8"/>
<rect x="79.60" y="620.99" width="5.90" height="5.90" fill="#ea2990" stroke="#111" stroke-width="0.8"/>
<rect x="114.13" y="639.88" width="5.90" height="5.90" fill="#ea2990" stroke="#111" stroke-width="0.8"/>
<rect x="148.66" y="615.06" width="5.90" height="5.90" fill="#ea2990" stroke="#111" stroke-width="0.8"/>
<rect x="183.19" y="630.80" width="5.90" height="5.90" fill="#ea2990" stroke="#111" stroke-width="0.8"/>
<rect x="217.72" y="612.64" width="5.90" height="5.90" fill="#ea2990" stroke="#111" stroke-width="0.8"/>
<rect x="252.25" y="611.06" width="5.90" height="5.90" fill="#ea2990" stroke="#111" stroke-width="0.8"/>
<rect x="286.78" y="602.83" width="5.90" height="5.90" fill="#ea2990" stroke="#111" stroke-width="0.8"/>
<path d="M82.55 660.89L86.40 664.74L82.55 668.59L78.70 664.74Z" fill="#089fe2" stroke="#111" stroke-width="0.8"/>
<path d="M117.08 635.71L120.93 639.56L117.08 643.41L113.23 639.56Z" fill="#089fe2" stroke="#111" stroke-width="0.8"/>
<path d="M151.61 622.39L155.46 626.24L151.61 630.09L147.76 626.24Z" fill="#089fe2" stroke="#111" stroke-width="0.8"/>
<path d="M186.14 636.19L189.99 640.04L186.14 643.89L182.29 640.04Z" fill="#089fe2" stroke="#111" stroke-width="0.8"/>
<path d="M220.67 615.01L224.52 618.86L220.67 622.71L216.82 618.86Z" fill="#089fe2" stroke="#111" stroke-width="0.8"/>
<path d="M255.20 612.71L259.05 616.56L255.20 620.41L251.35 616.56Z" fill="#089fe2" stroke="#111" stroke-width="0.8"/>
<path d="M289.73 620.82L293.58 624.67L289.73 628.52L285.88 624.67Z" fill="#089fe2" stroke="#111" stroke-width="0.8"/></g>
<g id="pf"><path d="M415.20 700.26 L418.08 700.54 L420.96 700.81 L423.84 701.07 L426.73 701.32 L429.61 701.55 L432.49 701.75 L435.37 701.92 L438.25 702.06 L441.13 702.16 L444.02 702.21 L446.90 702.21 L449.78 702.15 L452.66 702.04 L455.54 701.87 L458.42 701.67 L461.31 701.43 L464.19 701.18 L467.07 700.91 L469.95 700.65 L472.83 700.39 L475.72 700.16 L478.60 699.95 L481.48 699.79 L484.36 699.68 L487.24 699.62 L490.12 699.62 L493.00 699.66 L495.89 699.74 L498.77 699.85 L501.65 699.99 L504.53 700.14 L507.41 700.29 L510.29 700.45 L513.18 700.60 L516.06 700.73 L518.94 700.84 L521.82 700.92 L524.70 700.98 L527.58 701.01 L530.47 701.03 L533.35 701.02 L536.23 701.01 L539.11 700.98 L541.99 700.95 L544.88 700.92 L547.76 700.89 L550.64 700.86 L553.52 700.84 L556.40 700.84 L559.28 700.84 L562.16 700.85 L565.05 700.86 L567.93 700.88 L570.81 700.90 L573.69 700.91 L576.57 700.92 L579.45 700.92 L582.34 700.91 L585.22 700.88 L588.10 700.84 L590.98 700.78 L593.86 700.71 L596.74 700.62 L599.63 700.52 L602.51 700.40 L605.39 700.28 L608.27 700.14 L611.15 700.00 L614.03 699.85 L616.92 699.70 L619.80 699.54 L622.68 699.39" fill="none" stroke="#1a1a1a" stroke-width="0.75"/>
<path d="M415.20 645.82 L418.08 649.87 L420.96 653.84 L423.84 657.61 L426.73 661.11 L429.61 664.23 L432.49 666.88 L435.37 668.96 L438.25 670.39 L441.13 671.07 L444.02 670.90 L446.90 669.79 L449.78 667.65 L452.66 664.43 L455.54 660.25 L458.42 655.28 L461.31 649.70 L464.19 643.68 L467.07 637.39 L469.95 630.99 L472.83 624.66 L475.72 618.57 L478.60 612.89 L481.48 607.80 L484.36 603.45 L487.24 599.99 L490.12 597.37 L493.00 595.50 L495.89 594.30 L498.77 593.68 L501.65 593.57 L504.53 593.87 L507.41 594.50 L510.29 595.38 L513.18 596.42 L516.06 597.54 L518.94 598.65 L521.82 599.69 L524.70 600.64 L527.58 601.52 L530.47 602.33 L533.35 603.09 L536.23 603.79 L539.11 604.46 L541.99 605.10 L544.88 605.72 L547.76 606.32 L550.64 606.92 L553.52 607.53 L556.40 608.14 L559.28 608.76 L562.16 609.34 L565.05 609.89 L567.93 610.38 L570.81 610.80 L573.69 611.12 L576.57 611.34 L579.45 611.42 L582.34 611.36 L585.22 611.14 L588.10 610.73 L590.98 610.13 L593.86 609.35 L596.74 608.41 L599.63 607.31 L602.51 606.08 L605.39 604.74 L608.27 603.29 L611.15 601.76 L614.03 600.17 L616.92 598.53 L619.80 596.85 L622.68 595.16" fill="none" stroke="#1a1a1a" stroke-width="0.75"/>
<path d="M415.20 656.59 L418.08 660.12 L420.96 663.54 L423.84 666.72 L426.73 669.54 L429.61 671.90 L432.49 673.67 L435.37 674.73 L438.25 674.97 L441.13 674.26 L444.02 672.50 L446.90 669.56 L449.78 665.32 L452.66 659.74 L455.54 653.01 L458.42 645.41 L461.31 637.20 L464.19 628.64 L467.07 620.02 L469.95 611.59 L472.83 603.63 L475.72 596.39 L478.60 590.16 L481.48 585.19 L484.36 581.76 L487.24 580.05 L490.12 579.91 L493.00 581.10 L495.89 583.39 L498.77 586.54 L501.65 590.32 L504.53 594.48 L507.41 598.80 L510.29 603.04 L513.18 606.97 L516.06 610.33 L518.94 612.92 L521.82 614.53 L524.70 615.25 L527.58 615.19 L530.47 614.48 L533.35 613.23 L536.23 611.58 L539.11 609.64 L541.99 607.53 L544.88 605.39 L547.76 603.33 L550.64 601.48 L553.52 599.96 L556.40 598.86 L559.28 598.17 L562.16 597.82 L565.05 597.78 L567.93 597.98 L570.81 598.37 L573.69 598.91 L576.57 599.55 L579.45 600.23 L582.34 600.90 L585.22 601.50 L588.10 602.00 L590.98 602.34 L593.86 602.54 L596.74 602.59 L599.63 602.53 L602.51 602.35 L605.39 602.09 L608.27 601.73 L611.15 601.32 L614.03 600.84 L616.92 600.33 L619.80 599.79 L622.68 599.23" fill="none" stroke="#1a1a1a" stroke-width="0.75"/>
<path d="M415.20 648.44 L418.08 651.50 L420.96 654.49 L423.84 657.29 L426.73 659.84 L429.61 662.04 L432.49 663.80 L435.37 665.04 L438.25 665.68 L441.13 665.61 L444.02 664.76 L446.90 663.05 L449.78 660.37 L452.66 656.70 L455.54 652.15 L458.42 646.91 L461.31 641.15 L464.19 635.03 L467.07 628.74 L469.95 622.45 L472.83 616.33 L475.72 610.56 L478.60 605.30 L481.48 600.74 L484.36 597.05 L487.24 594.34 L490.12 592.54 L493.00 591.49 L495.89 591.06 L498.77 591.11 L501.65 591.49 L504.53 592.07 L507.41 592.71 L510.29 593.26 L513.18 593.58 L516.06 593.53 L518.94 592.97 L521.82 591.81 L524.70 590.09 L527.58 587.91 L530.47 585.37 L533.35 582.57 L536.23 579.61 L539.11 576.57 L541.99 573.56 L544.88 570.67 L547.76 568.00 L550.64 565.65 L553.52 563.71 L556.40 562.26 L559.28 561.29 L562.16 560.75 L565.05 560.62 L567.93 560.86 L570.81 561.44 L573.69 562.31 L576.57 563.45 L579.45 564.82 L582.34 566.39 L585.22 568.12 L588.10 569.97 L590.98 571.92 L593.86 573.95 L596.74 576.06 L599.63 578.24 L602.51 580.48 L605.39 582.77 L608.27 585.10 L611.15 587.47 L614.03 589.88 L616.92 592.30 L619.80 594.75 L622.68 597.19" fill="none" stroke="#1a1a1a" stroke-width="0.75"/>
<path d="M415.20 619.32 L418.08 624.36 L420.96 629.32 L423.84 634.14 L426.73 638.73 L429.61 643.03 L432.49 646.96 L435.37 650.44 L438.25 653.41 L441.13 655.79 L444.02 657.50 L446.90 658.47 L449.78 658.63 L452.66 657.93 L455.54 656.45 L458.42 654.31 L461.31 651.62 L464.19 648.49 L467.07 645.02 L469.95 641.34 L472.83 637.55 L475.72 633.76 L478.60 630.09 L481.48 626.65 L484.36 623.54 L487.24 620.86 L490.12 618.59 L493.00 616.68 L495.89 615.10 L498.77 613.81 L501.65 612.76 L504.53 611.91 L507.41 611.22 L510.29 610.66 L513.18 610.17 L516.06 609.73 L518.94 609.28 L521.82 608.79 L524.70 608.28 L527.58 607.74 L530.47 607.20 L533.35 606.66 L536.23 606.14 L539.11 605.65 L541.99 605.20 L544.88 604.80 L547.76 604.46 L550.64 604.21 L553.52 604.04 L556.40 603.96 L559.28 603.98 L562.16 604.07 L565.05 604.21 L567.93 604.39 L570.81 604.61 L573.69 604.83 L576.57 605.06 L579.45 605.26 L582.34 605.44 L585.22 605.57 L588.10 605.64 L590.98 605.64 L593.86 605.56 L596.74 605.43 L599.63 605.24 L602.51 605.00 L605.39 604.71 L608.27 604.39 L611.15 604.04 L614.03 603.66 L616.92 603.26 L619.80 602.85 L622.68 602.44" fill="none" stroke="#1a1a1a" stroke-width="0.75"/>
<path d="M415.20 639.41 L418.08 643.60 L420.96 647.72 L423.84 651.69 L426.73 655.45 L429.61 658.92 L432.49 662.03 L435.37 664.70 L438.25 666.88 L441.13 668.48 L444.02 669.43 L446.90 669.66 L449.78 669.11 L452.66 667.72 L455.54 665.60 L458.42 662.87 L461.31 659.67 L464.19 656.11 L467.07 652.34 L469.95 648.48 L472.83 644.65 L475.72 640.98 L478.60 637.62 L481.48 634.67 L484.36 632.28 L487.24 630.53 L490.12 629.37 L493.00 628.72 L495.89 628.49 L498.77 628.59 L501.65 628.93 L504.53 629.43 L507.41 630.00 L510.29 630.56 L513.18 631.01 L516.06 631.27 L518.94 631.26 L521.82 630.90 L524.70 630.24 L527.58 629.33 L530.47 628.24 L533.35 627.01 L536.23 625.72 L539.11 624.41 L541.99 623.15 L544.88 622.00 L547.76 621.01 L550.64 620.24 L553.52 619.76 L556.40 619.60 L559.28 619.74 L562.16 620.15 L565.05 620.76 L567.93 621.56 L570.81 622.49 L573.69 623.52 L576.57 624.60 L579.45 625.70 L582.34 626.76 L585.22 627.75 L588.10 628.64 L590.98 629.38 L593.86 629.98 L596.74 630.45 L599.63 630.82 L602.51 631.07 L605.39 631.24 L608.27 631.34 L611.15 631.37 L614.03 631.35 L616.92 631.29 L619.80 631.21 L622.68 631.11" fill="none" stroke="#1a1a1a" stroke-width="0.75"/>
<path d="M415.20 653.53 L418.08 657.34 L420.96 661.06 L423.84 664.58 L426.73 667.82 L429.61 670.67 L432.49 673.05 L435.37 674.85 L438.25 675.97 L441.13 676.34 L444.02 675.84 L446.90 674.38 L449.78 671.87 L452.66 668.27 L455.54 663.73 L458.42 658.48 L461.31 652.73 L464.19 646.71 L467.07 640.62 L469.95 634.70 L472.83 629.15 L475.72 624.20 L478.60 620.06 L481.48 616.96 L484.36 615.10 L487.24 614.64 L490.12 615.42 L493.00 617.24 L495.89 619.86 L498.77 623.08 L501.65 626.67 L504.53 630.42 L507.41 634.09 L510.29 637.49 L513.18 640.38 L516.06 642.55 L518.94 643.78 L521.82 643.91 L524.70 643.03 L527.58 641.29 L530.47 638.84 L533.35 635.83 L536.23 632.42 L539.11 628.74 L541.99 624.96 L544.88 621.22 L547.76 617.67 L550.64 614.47 L553.52 611.75 L556.40 609.65 L559.28 608.14 L562.16 607.17 L565.05 606.71 L567.93 606.68 L570.81 607.06 L573.69 607.79 L576.57 608.82 L579.45 610.10 L582.34 611.58 L585.22 613.21 L588.10 614.95 L590.98 616.76 L593.86 618.61 L596.74 620.52 L599.63 622.46 L602.51 624.44 L605.39 626.46 L608.27 628.50 L611.15 630.57 L614.03 632.65 L616.92 634.75 L619.80 636.86 L622.68 638.97" fill="none" stroke="#1a1a1a" stroke-width="0.75"/>
<circle cx="415.20" cy="700.26" r="3.40" fill="#101010" stroke="#111" stroke-width="0.8"/>
<circle cx="449.78" cy="702.15" r="3.40" fill="#101010" stroke="#111" stroke-width="0.8"/>
<circle cx="484.36" cy="699.68" r="3.40" fill="#101010" stroke="#111" stroke-width="0.8"/>
<circle cx="518.94" cy="700.84" r="3.40" fill="#101010" stroke="#111" stroke-width="0.8"/>
<circle cx="553.52" cy="700.84" r="3.40" fill="#101010" stroke="#111" stroke-width="0.8"/>
<circle cx="588.10" cy="700.84" r="3.40" fill="#101010" stroke="#111" stroke-width="0.8"/>
<circle cx="622.68" cy="699.39" r="3.40" fill="#101010" stroke="#111" stroke-width="0.8"/>
<circle cx="415.20" cy="645.82" r="3.40" fill="#ee2c24" stroke="#111" stroke-width="0.8"/>
<circle cx="449.78" cy="667.65" r="3.40" fill="#ee2c24" stroke="#111" stroke-width="0.8"/>
<circle cx="484.36" cy="603.45" r="3.40" fill="#ee2c24" stroke="#111" stroke-width="0.8"/>
<circle cx="518.94" cy="598.65" r="3.40" fill="#ee2c24" stroke="#111" stroke-width="0.8"/>
<circle cx="553.52" cy="607.53" r="3.40" fill="#ee2c24" stroke="#111" stroke-width="0.8"/>
<circle cx="588.10" cy="610.73" r="3.40" fill="#ee2c24" stroke="#111" stroke-width="0.8"/>
<circle cx="622.68" cy="595.16" r="3.40" fill="#ee2c24" stroke="#111" stroke-width="0.8"/>
<path d="M415.20 660.09L418.75 653.96L411.65 653.96Z" fill="#03923c" stroke="#111" stroke-width="0.8" stroke-linejoin="miter"/>
<path d="M449.78 668.82L453.33 662.70L446.23 662.70Z" fill="#03923c" stroke="#111" stroke-width="0.8" stroke-linejoin="miter"/>
<path d="M484.36 585.26L487.91 579.14L480.81 579.14Z" fill="#03923c" stroke="#111" stroke-width="0.8" stroke-linejoin="miter"/>
<path d="M518.94 616.42L522.49 610.29L515.39 610.29Z" fill="#03923c" stroke="#111" stroke-width="0.8" stroke-linejoin="miter"/>
<path d="M553.52 603.46L557.07 597.34L549.97 597.34Z" fill="#03923c" stroke="#111" stroke-width="0.8" stroke-linejoin="miter"/>
<path d="M588.10 605.50L591.65 599.37L584.55 599.37Z" fill="#03923c" stroke="#111" stroke-width="0.8" stroke-linejoin="miter"/>
<path d="M622.68 602.73L626.23 596.61L619.13 596.61Z" fill="#03923c" stroke="#111" stroke-width="0.8" stroke-linejoin="miter"/>
<path d="M415.20 644.94L418.75 651.06L411.65 651.06Z" fill="#f6ec00" stroke="#111" stroke-width="0.8" stroke-linejoin="miter"/>
<path d="M449.78 656.87L453.33 663.00L446.23 663.00Z" fill="#f6ec00" stroke="#111" stroke-width="0.8" stroke-linejoin="miter"/>
<path d="M484.36 593.55L487.91 599.67L480.81 599.67Z" fill="#f6ec00" stroke="#111" stroke-width="0.8" stroke-linejoin="miter"/>
<path d="M518.94 589.47L522.49 595.60L515.39 595.60Z" fill="#f6ec00" stroke="#111" stroke-width="0.8" stroke-linejoin="miter"/>
<path d="M553.52 560.21L557.07 566.34L549.97 566.34Z" fill="#f6ec00" stroke="#111" stroke-width="0.8" stroke-linejoin="miter"/>
<path d="M588.10 566.47L591.65 572.60L584.55 572.60Z" fill="#f6ec00" stroke="#111" stroke-width="0.8" stroke-linejoin="miter"/>
<path d="M622.68 593.69L626.23 599.82L619.13 599.82Z" fill="#f6ec00" stroke="#111" stroke-width="0.8" stroke-linejoin="miter"/>
<rect x="412.25" y="616.37" width="5.90" height="5.90" fill="#40248a" stroke="#111" stroke-width="0.8"/>
<rect x="446.83" y="655.68" width="5.90" height="5.90" fill="#40248a" stroke="#111" stroke-width="0.8"/>
<rect x="481.41" y="620.59" width="5.90" height="5.90" fill="#40248a" stroke="#111" stroke-width="0.8"/>
<rect x="515.99" y="606.33" width="5.90" height="5.90" fill="#40248a" stroke="#111" stroke-width="0.8"/>
<rect x="550.57" y="601.09" width="5.90" height="5.90" fill="#40248a" stroke="#111" stroke-width="0.8"/>
<rect x="585.15" y="602.69" width="5.90" height="5.90" fill="#40248a" stroke="#111" stroke-width="0.8"/>
<rect x="619.73" y="599.49" width="5.90" height="5.90" fill="#40248a" stroke="#111" stroke-width="0.8"/>
<rect x="412.25" y="636.46" width="5.90" height="5.90" fill="#ea2990" stroke="#111" stroke-width="0.8"/>
<rect x="446.83" y="666.16" width="5.90" height="5.90" fill="#ea2990" stroke="#111" stroke-width="0.8"/>
<rect x="481.41" y="629.33" width="5.90" height="5.90" fill="#ea2990" stroke="#111" stroke-width="0.8"/>
<rect x="515.99" y="628.31" width="5.90" height="5.90" fill="#ea2990" stroke="#111" stroke-width="0.8"/>
<rect x="550.57" y="616.81" width="5.90" height="5.90" fill="#ea2990" stroke="#111" stroke-width="0.8"/>
<rect x="585.15" y="625.69" width="5.90" height="5.90" fill="#ea2990" stroke="#111" stroke-width="0.8"/>
<rect x="619.73" y="628.16" width="5.90" height="5.90" fill="#ea2990" stroke="#111" stroke-width="0.8"/>
<path d="M415.20 649.68L419.05 653.53L415.20 657.38L411.35 653.53Z" fill="#089fe2" stroke="#111" stroke-width="0.8"/>
<path d="M449.78 668.02L453.63 671.87L449.78 675.72L445.93 671.87Z" fill="#089fe2" stroke="#111" stroke-width="0.8"/>
<path d="M484.36 611.25L488.21 615.10L484.36 618.95L480.51 615.10Z" fill="#089fe2" stroke="#111" stroke-width="0.8"/>
<path d="M518.94 639.93L522.79 643.78L518.94 647.63L515.09 643.78Z" fill="#089fe2" stroke="#111" stroke-width="0.8"/>
<path d="M553.52 607.90L557.37 611.75L553.52 615.60L549.67 611.75Z" fill="#089fe2" stroke="#111" stroke-width="0.8"/>
<path d="M588.10 611.10L591.95 614.95L588.10 618.80L584.25 614.95Z" fill="#089fe2" stroke="#111" stroke-width="0.8"/>
<path d="M622.68 635.12L626.53 638.97L622.68 642.82L618.83 638.97Z" fill="#089fe2" stroke="#111" stroke-width="0.8"/></g>
<line x1="53.2" y1="19.3" x2="70.6" y2="19.3" stroke="#222" stroke-width="1.2"/>
<circle cx="62.00" cy="19.30" r="3.40" fill="#101010" stroke="#111" stroke-width="0.8"/>
<text transform="translate(74.8 22.50) scale(1 1.15)" font-family="Liberation Sans, sans-serif" font-size="7.7" fill="#262626">CK</text>
<line x1="53.2" y1="35.7" x2="70.6" y2="35.7" stroke="#222" stroke-width="1.2"/>
<circle cx="62.00" cy="35.70" r="3.40" fill="#ee2c24" stroke="#111" stroke-width="0.8"/>
<text transform="translate(74.8 38.90) scale(1 1.15)" font-family="Liberation Sans, sans-serif" font-size="7.7" fill="#262626">NP</text>
<line x1="53.2" y1="52.2" x2="70.6" y2="52.2" stroke="#222" stroke-width="1.2"/>
<path d="M62.00 55.70L65.55 49.58L58.45 49.58Z" fill="#03923c" stroke="#111" stroke-width="0.8" stroke-linejoin="miter"/>
<text transform="translate(74.8 55.40) scale(1 1.15)" font-family="Liberation Sans, sans-serif" font-size="7.7" fill="#262626">NPK</text>
<line x1="53.2" y1="68.3" x2="70.6" y2="68.3" stroke="#222" stroke-width="1.2"/>
<path d="M62.00 64.80L65.55 70.92L58.45 70.92Z" fill="#f6ec00" stroke="#111" stroke-width="0.8" stroke-linejoin="miter"/>
<text transform="translate(74.8 71.50) scale(1 1.15)" font-family="Liberation Sans, sans-serif" font-size="7.7" fill="#262626">NPKS</text>
<line x1="107.8" y1="18.6" x2="125.3" y2="18.6" stroke="#222" stroke-width="1.2"/>
<rect x="113.65" y="15.65" width="5.90" height="5.90" fill="#40248a" stroke="#111" stroke-width="0.8"/>
<text transform="translate(129.70 21.80) scale(1 1.15)" font-family="Liberation Sans, sans-serif" font-size="7.7" fill="#262626">NPCa</text>
<line x1="104.7" y1="33.7" x2="122.6" y2="33.7" stroke="#222" stroke-width="1.2"/>
<rect x="110.75" y="30.75" width="5.90" height="5.90" fill="#ea2990" stroke="#111" stroke-width="0.8"/>
<text transform="translate(127.00 36.90) scale(1 1.15)" font-family="Liberation Sans, sans-serif" font-size="7.7" fill="#262626">NPKCa</text>
<line x1="98.8" y1="48.5" x2="116.7" y2="48.5" stroke="#222" stroke-width="1.2"/>
<path d="M107.80 44.65L111.65 48.50L107.80 52.35L103.95 48.50Z" fill="#089fe2" stroke="#111" stroke-width="0.8"/>
<text transform="translate(121.10 51.70) scale(1 1.15)" font-family="Liberation Sans, sans-serif" font-size="7.7" fill="#262626">NPKSCa</text>
<text transform="translate(16.80,122.60) rotate(-90)" x="0" y="0" font-family="Liberation Serif, serif" font-size="11.7" text-anchor="middle" fill="#222"><tspan font-size="11.3">Soil pH</tspan></text>
<text transform="translate(15.40,368.90) rotate(-90)" x="0" y="0" font-family="Liberation Serif, serif" font-size="11.7" text-anchor="middle" fill="#222">Soil total nitrogen (g kg<tspan dy="-4.4" font-size="9.6">-1</tspan><tspan dy="4.4">)</tspan></text>
<text transform="translate(15.40,616.20) rotate(-90)" x="0" y="0" font-family="Liberation Serif, serif" font-size="11.7" text-anchor="middle" fill="#222">Soil total phosphorus (g kg<tspan dy="-4.4" font-size="9.6">-1</tspan><tspan dy="4.4">)</tspan></text>
<text transform="translate(350.60,119.90) rotate(-90)" x="0" y="0" font-family="Liberation Serif, serif" font-size="11.7" text-anchor="middle" fill="#222">Soil organic carbon (g kg<tspan dy="-4.4" font-size="9.6">-1</tspan><tspan dy="4.4">)</tspan></text>
<text transform="translate(346.60,363.30) rotate(-90)" x="0" y="0" font-family="Liberation Serif, serif" font-size="11.7" text-anchor="middle" fill="#222">Soil available nitrogen (g kg<tspan dy="-4.4" font-size="9.6">-1</tspan><tspan dy="4.4">)</tspan></text>
<text transform="translate(346.60,616.80) rotate(-90)" x="0" y="0" font-family="Liberation Serif, serif" font-size="11.7" text-anchor="middle" fill="#222">Soil available phosphorus (mg kg<tspan dy="-4.4" font-size="9.6">-1</tspan><tspan dy="4.4">)</tspan></text>
<text x="186" y="770.5" font-family="Liberation Serif, serif" font-size="11.5" text-anchor="middle" fill="#222">Fertilization years</text>
<text x="519" y="770.5" font-family="Liberation Serif, serif" font-size="11.5" text-anchor="middle" fill="#222">Fertilization years</text>
<text x="296.60" y="27.3" font-family="Liberation Sans, sans-serif" font-size="12.3" letter-spacing="0" text-anchor="middle" fill="#1e1e1e">(a)</text>
<text x="637.70" y="21.0" font-family="Liberation Sans, sans-serif" font-size="12.3" letter-spacing="0.6" text-anchor="middle" fill="#1e1e1e">(b)</text>
<text x="300.43" y="262.9" font-family="Liberation Sans, sans-serif" font-size="12.3" letter-spacing="0.45" text-anchor="middle" fill="#1e1e1e">(c)</text>
<text x="633.65" y="259.3" font-family="Liberation Sans, sans-serif" font-size="12.3" letter-spacing="0.7" text-anchor="middle" fill="#1e1e1e">(d)</text>
<text x="293.03" y="502.7" font-family="Liberation Sans, sans-serif" font-size="12.3" letter-spacing="0.45" text-anchor="middle" fill="#1e1e1e">(e)</text>
<text x="632.45" y="504.8" font-family="Liberation Sans, sans-serif" font-size="12.3" letter-spacing="0.9" text-anchor="middle" fill="#1e1e1e">(f)</text>
</svg>
</body></html>
